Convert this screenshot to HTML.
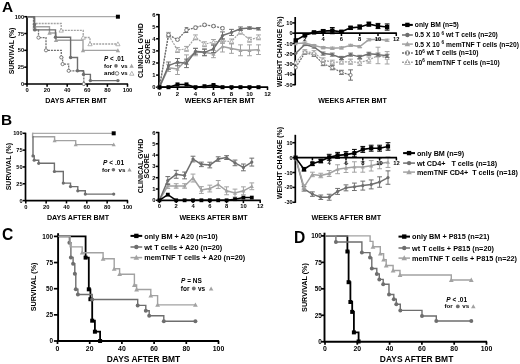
<!DOCTYPE html>
<html><head><meta charset="utf-8"><title>Figure</title>
<style>
html,body{margin:0;padding:0;background:#fff;width:520px;height:364px;overflow:hidden}
svg{display:block;filter:blur(0.3px)}
text{font-family:"Liberation Sans", sans-serif}
</style></head>
<body>
<svg width="520" height="364" viewBox="0 0 520 364">
<rect width="520" height="364" fill="#fff"/>
<text x="2" y="11.5" font-size="15.4" text-anchor="start" font-weight="bold" fill="#000">A</text>
<line x1="27" y1="16.1" x2="27" y2="84.6" stroke="#000" stroke-width="1.7" stroke-linecap="butt"/>
<line x1="24.2" y1="16.7" x2="27" y2="16.7" stroke="#000" stroke-width="1.53" stroke-linecap="butt"/>
<text x="24" y="18.72" font-size="5.6" text-anchor="end" font-weight="bold" fill="#000">100</text>
<line x1="24.2" y1="33.52" x2="27" y2="33.52" stroke="#000" stroke-width="1.53" stroke-linecap="butt"/>
<text x="24" y="35.54" font-size="5.6" text-anchor="end" font-weight="bold" fill="#000">75</text>
<line x1="24.2" y1="50.35" x2="27" y2="50.35" stroke="#000" stroke-width="1.53" stroke-linecap="butt"/>
<text x="24" y="52.37" font-size="5.6" text-anchor="end" font-weight="bold" fill="#000">50</text>
<line x1="24.2" y1="67.17" x2="27" y2="67.17" stroke="#000" stroke-width="1.53" stroke-linecap="butt"/>
<text x="24" y="69.19" font-size="5.6" text-anchor="end" font-weight="bold" fill="#000">25</text>
<line x1="24.2" y1="84" x2="27" y2="84" stroke="#000" stroke-width="1.53" stroke-linecap="butt"/>
<text x="24" y="86.02" font-size="5.6" text-anchor="end" font-weight="bold" fill="#000">0</text>
<line x1="26.4" y1="84" x2="128.1" y2="84" stroke="#000" stroke-width="1.7" stroke-linecap="butt"/>
<line x1="27" y1="84" x2="27" y2="86.8" stroke="#000" stroke-width="1.53" stroke-linecap="butt"/>
<text x="27" y="92" font-size="5.8" text-anchor="middle" font-weight="bold" fill="#000">0</text>
<line x1="47.1" y1="84" x2="47.1" y2="86.8" stroke="#000" stroke-width="1.53" stroke-linecap="butt"/>
<text x="47.1" y="92" font-size="5.8" text-anchor="middle" font-weight="bold" fill="#000">20</text>
<line x1="67.2" y1="84" x2="67.2" y2="86.8" stroke="#000" stroke-width="1.53" stroke-linecap="butt"/>
<text x="67.2" y="92" font-size="5.8" text-anchor="middle" font-weight="bold" fill="#000">40</text>
<line x1="87.3" y1="84" x2="87.3" y2="86.8" stroke="#000" stroke-width="1.53" stroke-linecap="butt"/>
<text x="87.3" y="92" font-size="5.8" text-anchor="middle" font-weight="bold" fill="#000">60</text>
<line x1="107.4" y1="84" x2="107.4" y2="86.8" stroke="#000" stroke-width="1.53" stroke-linecap="butt"/>
<text x="107.4" y="92" font-size="5.8" text-anchor="middle" font-weight="bold" fill="#000">80</text>
<line x1="127.5" y1="84" x2="127.5" y2="86.8" stroke="#000" stroke-width="1.53" stroke-linecap="butt"/>
<text x="127.5" y="92" font-size="5.8" text-anchor="middle" font-weight="bold" fill="#000">100</text>
<text x="13.8" y="51" font-size="6.9" text-anchor="middle" font-weight="bold" fill="#000" transform="rotate(-90 13.8 51)">SURVIVAL (%)</text>
<text x="76" y="102.8" font-size="7.1" text-anchor="middle" font-weight="bold" fill="#000">DAYS AFTER BMT</text>
<line x1="28.8" y1="16.7" x2="117.9" y2="16.7" stroke="#8a8a8a" stroke-width="0.9" stroke-linecap="butt"/>
<rect x="115.91" y="14.71" width="3.99" height="3.99" fill="#000"/>
<polyline points="27.5,16.7 33.7,16.7 33.7,23.5 61.2,23.5 61.2,30.4 83.2,30.4 83.2,37.5 90,37.5 90,44 117.9,44" fill="none" stroke="#a2a2a2" stroke-width="1.3" stroke-linejoin="miter" stroke-dasharray="2,1"/>
<polygon points="61.2,28.24 59.04,32.13 63.36,32.13" fill="#fff" stroke="#a2a2a2" stroke-width="0.8"/>
<polygon points="83.2,35.34 81.04,39.23 85.36,39.23" fill="#fff" stroke="#a2a2a2" stroke-width="0.8"/>
<polygon points="90,41.84 87.84,45.73 92.16,45.73" fill="#fff" stroke="#a2a2a2" stroke-width="0.8"/>
<polygon points="117.9,41.84 115.74,45.73 120.06,45.73" fill="#fff" stroke="#a2a2a2" stroke-width="0.8"/>
<polyline points="27.5,16.7 34.6,16.7 34.6,26.7 49.5,26.7 49.5,33 56,33 56,40.2 83,40.2 83,50.4 117.9,50.4" fill="none" stroke="#a2a2a2" stroke-width="1.4" stroke-linejoin="miter"/>
<polygon points="34.6,24.54 32.44,28.43 36.76,28.43" fill="#a2a2a2"/>
<polygon points="49.5,30.84 47.34,34.73 51.66,34.73" fill="#a2a2a2"/>
<polygon points="56,38.04 53.84,41.93 58.16,41.93" fill="#a2a2a2"/>
<polygon points="83,48.24 80.84,52.13 85.16,52.13" fill="#a2a2a2"/>
<polygon points="117.9,48.24 115.74,52.13 120.06,52.13" fill="#a2a2a2"/>
<polyline points="27.5,16.7 34.5,16.7 34.5,24.5 34.8,24.5 34.8,29.9 55.5,29.9 55.5,37.3 70.6,37.3 70.6,57.5 77.5,57.5 77.5,70.8 83.5,70.8 83.5,74.4 90.4,74.4 90.4,80.6 117.9,80.6" fill="none" stroke="#6e6e6e" stroke-width="1.4" stroke-linejoin="miter"/>
<circle cx="34.5" cy="24.5" r="1.71" fill="#6e6e6e"/>
<circle cx="34.8" cy="29.9" r="1.71" fill="#6e6e6e"/>
<circle cx="55.5" cy="37.3" r="1.71" fill="#6e6e6e"/>
<circle cx="70.6" cy="57.5" r="1.71" fill="#6e6e6e"/>
<circle cx="77.5" cy="70.8" r="1.71" fill="#6e6e6e"/>
<circle cx="83.5" cy="74.4" r="1.71" fill="#6e6e6e"/>
<circle cx="90.4" cy="80.6" r="1.71" fill="#6e6e6e"/>
<circle cx="117.9" cy="80.6" r="1.71" fill="#6e6e6e"/>
<polyline points="27.5,16.7 33.5,16.7 33.5,29.9 38.5,29.9 38.5,37.6 46,37.6 46,50.3 61.3,50.3 61.3,57.4 62.6,57.4 62.6,64.1 68.7,64.1 68.7,70.8 83.8,70.8 83.8,84 83.8,84" fill="none" stroke="#6e6e6e" stroke-width="1.3" stroke-linejoin="miter" stroke-dasharray="2,1"/>
<circle cx="38.5" cy="37.6" r="1.61" fill="#fff" stroke="#6e6e6e" stroke-width="0.9"/>
<circle cx="46" cy="50.3" r="1.61" fill="#fff" stroke="#6e6e6e" stroke-width="0.9"/>
<circle cx="61.3" cy="57.4" r="1.61" fill="#fff" stroke="#6e6e6e" stroke-width="0.9"/>
<circle cx="62.6" cy="64.1" r="1.61" fill="#fff" stroke="#6e6e6e" stroke-width="0.9"/>
<circle cx="68.7" cy="70.8" r="1.61" fill="#fff" stroke="#6e6e6e" stroke-width="0.9"/>
<circle cx="83.8" cy="84" r="1.61" fill="#fff" stroke="#6e6e6e" stroke-width="0.9"/>
<text x="104.1" y="60.7" font-size="6.3" text-anchor="start" font-weight="bold" fill="#000"><tspan font-style="italic">P</tspan> &lt; .01</text>
<text x="104.1" y="67.9" font-size="6" text-anchor="start" font-weight="bold" fill="#000">for</text>
<circle cx="116" cy="65.9" r="1.8" fill="#6e6e6e"/>
<text x="121" y="67.9" font-size="6" text-anchor="start" font-weight="bold" fill="#000">vs</text>
<polygon points="131.6,63.84 129.44,67.73 133.76,67.73" fill="#a2a2a2"/>
<text x="104.1" y="75.4" font-size="6" text-anchor="start" font-weight="bold" fill="#000">and</text>
<circle cx="117" cy="73.4" r="1.8" fill="#fff" stroke="#6e6e6e" stroke-width="0.9"/>
<text x="121" y="75.4" font-size="6" text-anchor="start" font-weight="bold" fill="#000">vs</text>
<polygon points="131.8,71.34 129.64,75.23 133.96,75.23" fill="#fff" stroke="#a2a2a2" stroke-width="0.8"/>
<line x1="158.9" y1="14" x2="158.9" y2="87.8" stroke="#000" stroke-width="1.7" stroke-linecap="butt"/>
<line x1="156.1" y1="87.2" x2="158.9" y2="87.2" stroke="#000" stroke-width="1.53" stroke-linecap="butt"/>
<text x="155.6" y="89.29" font-size="5.8" text-anchor="end" font-weight="bold" fill="#000">0</text>
<line x1="156.1" y1="75.1" x2="158.9" y2="75.1" stroke="#000" stroke-width="1.53" stroke-linecap="butt"/>
<text x="155.6" y="77.19" font-size="5.8" text-anchor="end" font-weight="bold" fill="#000">1</text>
<line x1="156.1" y1="63" x2="158.9" y2="63" stroke="#000" stroke-width="1.53" stroke-linecap="butt"/>
<text x="155.6" y="65.09" font-size="5.8" text-anchor="end" font-weight="bold" fill="#000">2</text>
<line x1="156.1" y1="50.9" x2="158.9" y2="50.9" stroke="#000" stroke-width="1.53" stroke-linecap="butt"/>
<text x="155.6" y="52.99" font-size="5.8" text-anchor="end" font-weight="bold" fill="#000">3</text>
<line x1="156.1" y1="38.8" x2="158.9" y2="38.8" stroke="#000" stroke-width="1.53" stroke-linecap="butt"/>
<text x="155.6" y="40.89" font-size="5.8" text-anchor="end" font-weight="bold" fill="#000">4</text>
<line x1="156.1" y1="26.7" x2="158.9" y2="26.7" stroke="#000" stroke-width="1.53" stroke-linecap="butt"/>
<text x="155.6" y="28.79" font-size="5.8" text-anchor="end" font-weight="bold" fill="#000">5</text>
<line x1="156.1" y1="14.6" x2="158.9" y2="14.6" stroke="#000" stroke-width="1.53" stroke-linecap="butt"/>
<text x="155.6" y="16.69" font-size="5.8" text-anchor="end" font-weight="bold" fill="#000">6</text>
<line x1="158.3" y1="87.2" x2="268.1" y2="87.2" stroke="#000" stroke-width="1.7" stroke-linecap="butt"/>
<line x1="159.5" y1="87.2" x2="159.5" y2="90" stroke="#000" stroke-width="1.53" stroke-linecap="butt"/>
<text x="159.5" y="95.6" font-size="6" text-anchor="middle" font-weight="bold" fill="#000">0</text>
<line x1="177.5" y1="87.2" x2="177.5" y2="90" stroke="#000" stroke-width="1.53" stroke-linecap="butt"/>
<text x="177.5" y="95.6" font-size="6" text-anchor="middle" font-weight="bold" fill="#000">2</text>
<line x1="195.5" y1="87.2" x2="195.5" y2="90" stroke="#000" stroke-width="1.53" stroke-linecap="butt"/>
<text x="195.5" y="95.6" font-size="6" text-anchor="middle" font-weight="bold" fill="#000">4</text>
<line x1="213.5" y1="87.2" x2="213.5" y2="90" stroke="#000" stroke-width="1.53" stroke-linecap="butt"/>
<text x="213.5" y="95.6" font-size="6" text-anchor="middle" font-weight="bold" fill="#000">6</text>
<line x1="231.5" y1="87.2" x2="231.5" y2="90" stroke="#000" stroke-width="1.53" stroke-linecap="butt"/>
<text x="231.5" y="95.6" font-size="6" text-anchor="middle" font-weight="bold" fill="#000">8</text>
<line x1="249.5" y1="87.2" x2="249.5" y2="90" stroke="#000" stroke-width="1.53" stroke-linecap="butt"/>
<text x="249.5" y="95.6" font-size="6" text-anchor="middle" font-weight="bold" fill="#000">10</text>
<line x1="267.5" y1="87.2" x2="267.5" y2="90" stroke="#000" stroke-width="1.53" stroke-linecap="butt"/>
<text x="267.5" y="95.6" font-size="6" text-anchor="middle" font-weight="bold" fill="#000">12</text>
<text x="143.4" y="50.6" font-size="7" text-anchor="middle" font-weight="bold" fill="#000" transform="rotate(-90 143.4 50.6)">CLINICAL GVHD</text>
<text x="149.8" y="51.4" font-size="7" text-anchor="middle" font-weight="bold" fill="#000" transform="rotate(-90 149.8 51.4)">SCORE</text>
<text x="219.8" y="103.3" font-size="7.25" text-anchor="middle" font-weight="bold" fill="#000">WEEKS AFTER BMT</text>
<polyline points="159.5,87.2 168.5,34.81 177.5,50.05 186.5,48.84 195.5,37.35 204.5,44.25 213.5,41.95 222.5,40.98 231.5,41.46 240.5,31.78 249.5,39.77 258.5,37.35" fill="none" stroke="#a2a2a2" stroke-width="1.2" stroke-linejoin="round" stroke-dasharray="2,1"/>
<line x1="168.5" y1="32.39" x2="168.5" y2="37.23" stroke="#a2a2a2" stroke-width="1" stroke-linecap="butt"/>
<line x1="166.1" y1="32.39" x2="170.9" y2="32.39" stroke="#a2a2a2" stroke-width="1" stroke-linecap="butt"/>
<line x1="166.1" y1="37.23" x2="170.9" y2="37.23" stroke="#a2a2a2" stroke-width="1" stroke-linecap="butt"/>
<line x1="177.5" y1="47.63" x2="177.5" y2="52.47" stroke="#a2a2a2" stroke-width="1" stroke-linecap="butt"/>
<line x1="175.1" y1="47.63" x2="179.9" y2="47.63" stroke="#a2a2a2" stroke-width="1" stroke-linecap="butt"/>
<line x1="175.1" y1="52.47" x2="179.9" y2="52.47" stroke="#a2a2a2" stroke-width="1" stroke-linecap="butt"/>
<line x1="186.5" y1="46.42" x2="186.5" y2="51.26" stroke="#a2a2a2" stroke-width="1" stroke-linecap="butt"/>
<line x1="184.1" y1="46.42" x2="188.9" y2="46.42" stroke="#a2a2a2" stroke-width="1" stroke-linecap="butt"/>
<line x1="184.1" y1="51.26" x2="188.9" y2="51.26" stroke="#a2a2a2" stroke-width="1" stroke-linecap="butt"/>
<line x1="195.5" y1="34.93" x2="195.5" y2="39.77" stroke="#a2a2a2" stroke-width="1" stroke-linecap="butt"/>
<line x1="193.1" y1="34.93" x2="197.9" y2="34.93" stroke="#a2a2a2" stroke-width="1" stroke-linecap="butt"/>
<line x1="193.1" y1="39.77" x2="197.9" y2="39.77" stroke="#a2a2a2" stroke-width="1" stroke-linecap="butt"/>
<line x1="204.5" y1="41.83" x2="204.5" y2="46.67" stroke="#a2a2a2" stroke-width="1" stroke-linecap="butt"/>
<line x1="202.1" y1="41.83" x2="206.9" y2="41.83" stroke="#a2a2a2" stroke-width="1" stroke-linecap="butt"/>
<line x1="202.1" y1="46.67" x2="206.9" y2="46.67" stroke="#a2a2a2" stroke-width="1" stroke-linecap="butt"/>
<line x1="213.5" y1="39.53" x2="213.5" y2="44.37" stroke="#a2a2a2" stroke-width="1" stroke-linecap="butt"/>
<line x1="211.1" y1="39.53" x2="215.9" y2="39.53" stroke="#a2a2a2" stroke-width="1" stroke-linecap="butt"/>
<line x1="211.1" y1="44.37" x2="215.9" y2="44.37" stroke="#a2a2a2" stroke-width="1" stroke-linecap="butt"/>
<line x1="222.5" y1="38.56" x2="222.5" y2="43.4" stroke="#a2a2a2" stroke-width="1" stroke-linecap="butt"/>
<line x1="220.1" y1="38.56" x2="224.9" y2="38.56" stroke="#a2a2a2" stroke-width="1" stroke-linecap="butt"/>
<line x1="220.1" y1="43.4" x2="224.9" y2="43.4" stroke="#a2a2a2" stroke-width="1" stroke-linecap="butt"/>
<line x1="231.5" y1="39.04" x2="231.5" y2="43.88" stroke="#a2a2a2" stroke-width="1" stroke-linecap="butt"/>
<line x1="229.1" y1="39.04" x2="233.9" y2="39.04" stroke="#a2a2a2" stroke-width="1" stroke-linecap="butt"/>
<line x1="229.1" y1="43.88" x2="233.9" y2="43.88" stroke="#a2a2a2" stroke-width="1" stroke-linecap="butt"/>
<line x1="240.5" y1="29.36" x2="240.5" y2="34.2" stroke="#a2a2a2" stroke-width="1" stroke-linecap="butt"/>
<line x1="238.1" y1="29.36" x2="242.9" y2="29.36" stroke="#a2a2a2" stroke-width="1" stroke-linecap="butt"/>
<line x1="238.1" y1="34.2" x2="242.9" y2="34.2" stroke="#a2a2a2" stroke-width="1" stroke-linecap="butt"/>
<line x1="249.5" y1="37.35" x2="249.5" y2="42.19" stroke="#a2a2a2" stroke-width="1" stroke-linecap="butt"/>
<line x1="247.1" y1="37.35" x2="251.9" y2="37.35" stroke="#a2a2a2" stroke-width="1" stroke-linecap="butt"/>
<line x1="247.1" y1="42.19" x2="251.9" y2="42.19" stroke="#a2a2a2" stroke-width="1" stroke-linecap="butt"/>
<line x1="258.5" y1="34.93" x2="258.5" y2="39.77" stroke="#a2a2a2" stroke-width="1" stroke-linecap="butt"/>
<line x1="256.1" y1="34.93" x2="260.9" y2="34.93" stroke="#a2a2a2" stroke-width="1" stroke-linecap="butt"/>
<line x1="256.1" y1="39.77" x2="260.9" y2="39.77" stroke="#a2a2a2" stroke-width="1" stroke-linecap="butt"/>
<polygon points="159.5,85.16 157.46,88.83 161.54,88.83" fill="#fff" stroke="#a2a2a2" stroke-width="0.8"/>
<polygon points="168.5,32.77 166.46,36.44 170.54,36.44" fill="#fff" stroke="#a2a2a2" stroke-width="0.8"/>
<polygon points="177.5,48.01 175.46,51.69 179.54,51.69" fill="#fff" stroke="#a2a2a2" stroke-width="0.8"/>
<polygon points="186.5,46.8 184.46,50.48 188.54,50.48" fill="#fff" stroke="#a2a2a2" stroke-width="0.8"/>
<polygon points="195.5,35.31 193.46,38.98 197.54,38.98" fill="#fff" stroke="#a2a2a2" stroke-width="0.8"/>
<polygon points="204.5,42.21 202.46,45.88 206.54,45.88" fill="#fff" stroke="#a2a2a2" stroke-width="0.8"/>
<polygon points="213.5,39.91 211.46,43.58 215.54,43.58" fill="#fff" stroke="#a2a2a2" stroke-width="0.8"/>
<polygon points="222.5,38.94 220.46,42.61 224.54,42.61" fill="#fff" stroke="#a2a2a2" stroke-width="0.8"/>
<polygon points="231.5,39.42 229.46,43.09 233.54,43.09" fill="#fff" stroke="#a2a2a2" stroke-width="0.8"/>
<polygon points="240.5,29.74 238.46,33.41 242.54,33.41" fill="#fff" stroke="#a2a2a2" stroke-width="0.8"/>
<polygon points="249.5,37.73 247.46,41.4 251.54,41.4" fill="#fff" stroke="#a2a2a2" stroke-width="0.8"/>
<polygon points="258.5,35.31 256.46,38.98 260.54,38.98" fill="#fff" stroke="#a2a2a2" stroke-width="0.8"/>
<polyline points="159.5,87.2 168.5,67.84 177.5,69.05 186.5,59.73 195.5,52.11 204.5,52.35 213.5,54.05 222.5,46.54 231.5,48.48 240.5,50.3 249.5,50.3 258.5,49.69" fill="none" stroke="#a2a2a2" stroke-width="1.5" stroke-linejoin="round"/>
<line x1="168.5" y1="64.21" x2="168.5" y2="71.47" stroke="#a2a2a2" stroke-width="1" stroke-linecap="butt"/>
<line x1="166.1" y1="64.21" x2="170.9" y2="64.21" stroke="#a2a2a2" stroke-width="1" stroke-linecap="butt"/>
<line x1="166.1" y1="71.47" x2="170.9" y2="71.47" stroke="#a2a2a2" stroke-width="1" stroke-linecap="butt"/>
<line x1="177.5" y1="63.61" x2="177.5" y2="74.5" stroke="#a2a2a2" stroke-width="1" stroke-linecap="butt"/>
<line x1="175.1" y1="63.61" x2="179.9" y2="63.61" stroke="#a2a2a2" stroke-width="1" stroke-linecap="butt"/>
<line x1="175.1" y1="74.5" x2="179.9" y2="74.5" stroke="#a2a2a2" stroke-width="1" stroke-linecap="butt"/>
<line x1="186.5" y1="54.89" x2="186.5" y2="64.57" stroke="#a2a2a2" stroke-width="1" stroke-linecap="butt"/>
<line x1="184.1" y1="54.89" x2="188.9" y2="54.89" stroke="#a2a2a2" stroke-width="1" stroke-linecap="butt"/>
<line x1="184.1" y1="64.57" x2="188.9" y2="64.57" stroke="#a2a2a2" stroke-width="1" stroke-linecap="butt"/>
<line x1="195.5" y1="48.48" x2="195.5" y2="55.74" stroke="#a2a2a2" stroke-width="1" stroke-linecap="butt"/>
<line x1="193.1" y1="48.48" x2="197.9" y2="48.48" stroke="#a2a2a2" stroke-width="1" stroke-linecap="butt"/>
<line x1="193.1" y1="55.74" x2="197.9" y2="55.74" stroke="#a2a2a2" stroke-width="1" stroke-linecap="butt"/>
<line x1="204.5" y1="48.72" x2="204.5" y2="55.98" stroke="#a2a2a2" stroke-width="1" stroke-linecap="butt"/>
<line x1="202.1" y1="48.72" x2="206.9" y2="48.72" stroke="#a2a2a2" stroke-width="1" stroke-linecap="butt"/>
<line x1="202.1" y1="55.98" x2="206.9" y2="55.98" stroke="#a2a2a2" stroke-width="1" stroke-linecap="butt"/>
<line x1="213.5" y1="50.42" x2="213.5" y2="57.68" stroke="#a2a2a2" stroke-width="1" stroke-linecap="butt"/>
<line x1="211.1" y1="50.42" x2="215.9" y2="50.42" stroke="#a2a2a2" stroke-width="1" stroke-linecap="butt"/>
<line x1="211.1" y1="57.68" x2="215.9" y2="57.68" stroke="#a2a2a2" stroke-width="1" stroke-linecap="butt"/>
<line x1="222.5" y1="41.1" x2="222.5" y2="51.99" stroke="#a2a2a2" stroke-width="1" stroke-linecap="butt"/>
<line x1="220.1" y1="41.1" x2="224.9" y2="41.1" stroke="#a2a2a2" stroke-width="1" stroke-linecap="butt"/>
<line x1="220.1" y1="51.99" x2="224.9" y2="51.99" stroke="#a2a2a2" stroke-width="1" stroke-linecap="butt"/>
<line x1="231.5" y1="43.64" x2="231.5" y2="53.32" stroke="#a2a2a2" stroke-width="1" stroke-linecap="butt"/>
<line x1="229.1" y1="43.64" x2="233.9" y2="43.64" stroke="#a2a2a2" stroke-width="1" stroke-linecap="butt"/>
<line x1="229.1" y1="53.32" x2="233.9" y2="53.32" stroke="#a2a2a2" stroke-width="1" stroke-linecap="butt"/>
<line x1="240.5" y1="44.85" x2="240.5" y2="55.74" stroke="#a2a2a2" stroke-width="1" stroke-linecap="butt"/>
<line x1="238.1" y1="44.85" x2="242.9" y2="44.85" stroke="#a2a2a2" stroke-width="1" stroke-linecap="butt"/>
<line x1="238.1" y1="55.74" x2="242.9" y2="55.74" stroke="#a2a2a2" stroke-width="1" stroke-linecap="butt"/>
<line x1="249.5" y1="44.85" x2="249.5" y2="55.74" stroke="#a2a2a2" stroke-width="1" stroke-linecap="butt"/>
<line x1="247.1" y1="44.85" x2="251.9" y2="44.85" stroke="#a2a2a2" stroke-width="1" stroke-linecap="butt"/>
<line x1="247.1" y1="55.74" x2="251.9" y2="55.74" stroke="#a2a2a2" stroke-width="1" stroke-linecap="butt"/>
<line x1="258.5" y1="44.85" x2="258.5" y2="54.53" stroke="#a2a2a2" stroke-width="1" stroke-linecap="butt"/>
<line x1="256.1" y1="44.85" x2="260.9" y2="44.85" stroke="#a2a2a2" stroke-width="1" stroke-linecap="butt"/>
<line x1="256.1" y1="54.53" x2="260.9" y2="54.53" stroke="#a2a2a2" stroke-width="1" stroke-linecap="butt"/>
<polygon points="159.5,85.16 157.46,88.83 161.54,88.83" fill="#a2a2a2"/>
<polygon points="168.5,65.8 166.46,69.47 170.54,69.47" fill="#a2a2a2"/>
<polygon points="177.5,67.01 175.46,70.68 179.54,70.68" fill="#a2a2a2"/>
<polygon points="186.5,57.69 184.46,61.37 188.54,61.37" fill="#a2a2a2"/>
<polygon points="195.5,50.07 193.46,53.74 197.54,53.74" fill="#a2a2a2"/>
<polygon points="204.5,50.31 202.46,53.98 206.54,53.98" fill="#a2a2a2"/>
<polygon points="213.5,52.01 211.46,55.68 215.54,55.68" fill="#a2a2a2"/>
<polygon points="222.5,44.5 220.46,48.18 224.54,48.18" fill="#a2a2a2"/>
<polygon points="231.5,46.44 229.46,50.11 233.54,50.11" fill="#a2a2a2"/>
<polygon points="240.5,48.26 238.46,51.93 242.54,51.93" fill="#a2a2a2"/>
<polygon points="249.5,48.26 247.46,51.93 251.54,51.93" fill="#a2a2a2"/>
<polygon points="258.5,47.65 256.46,51.32 260.54,51.32" fill="#a2a2a2"/>
<polyline points="159.5,87.2 168.5,34.81 177.5,39.65 186.5,30.09 195.5,27.67 204.5,24.88 213.5,26.1 222.5,28.27" fill="none" stroke="#6e6e6e" stroke-width="1.3" stroke-linejoin="round" stroke-dasharray="2,1"/>
<line x1="168.5" y1="33.6" x2="168.5" y2="36.02" stroke="#6e6e6e" stroke-width="1" stroke-linecap="butt"/>
<line x1="166.7" y1="33.6" x2="170.3" y2="33.6" stroke="#6e6e6e" stroke-width="1" stroke-linecap="butt"/>
<line x1="166.7" y1="36.02" x2="170.3" y2="36.02" stroke="#6e6e6e" stroke-width="1" stroke-linecap="butt"/>
<line x1="177.5" y1="38.68" x2="177.5" y2="40.62" stroke="#6e6e6e" stroke-width="1" stroke-linecap="butt"/>
<line x1="175.7" y1="38.68" x2="179.3" y2="38.68" stroke="#6e6e6e" stroke-width="1" stroke-linecap="butt"/>
<line x1="175.7" y1="40.62" x2="179.3" y2="40.62" stroke="#6e6e6e" stroke-width="1" stroke-linecap="butt"/>
<line x1="186.5" y1="27.67" x2="186.5" y2="32.51" stroke="#6e6e6e" stroke-width="1" stroke-linecap="butt"/>
<line x1="184.7" y1="27.67" x2="188.3" y2="27.67" stroke="#6e6e6e" stroke-width="1" stroke-linecap="butt"/>
<line x1="184.7" y1="32.51" x2="188.3" y2="32.51" stroke="#6e6e6e" stroke-width="1" stroke-linecap="butt"/>
<line x1="195.5" y1="26.22" x2="195.5" y2="29.12" stroke="#6e6e6e" stroke-width="1" stroke-linecap="butt"/>
<line x1="193.7" y1="26.22" x2="197.3" y2="26.22" stroke="#6e6e6e" stroke-width="1" stroke-linecap="butt"/>
<line x1="193.7" y1="29.12" x2="197.3" y2="29.12" stroke="#6e6e6e" stroke-width="1" stroke-linecap="butt"/>
<line x1="204.5" y1="23.43" x2="204.5" y2="26.34" stroke="#6e6e6e" stroke-width="1" stroke-linecap="butt"/>
<line x1="202.7" y1="23.43" x2="206.3" y2="23.43" stroke="#6e6e6e" stroke-width="1" stroke-linecap="butt"/>
<line x1="202.7" y1="26.34" x2="206.3" y2="26.34" stroke="#6e6e6e" stroke-width="1" stroke-linecap="butt"/>
<line x1="213.5" y1="24.89" x2="213.5" y2="27.31" stroke="#6e6e6e" stroke-width="1" stroke-linecap="butt"/>
<line x1="211.7" y1="24.89" x2="215.3" y2="24.89" stroke="#6e6e6e" stroke-width="1" stroke-linecap="butt"/>
<line x1="211.7" y1="27.31" x2="215.3" y2="27.31" stroke="#6e6e6e" stroke-width="1" stroke-linecap="butt"/>
<line x1="222.5" y1="27.06" x2="222.5" y2="29.48" stroke="#6e6e6e" stroke-width="1" stroke-linecap="butt"/>
<line x1="220.7" y1="27.06" x2="224.3" y2="27.06" stroke="#6e6e6e" stroke-width="1" stroke-linecap="butt"/>
<line x1="220.7" y1="29.48" x2="224.3" y2="29.48" stroke="#6e6e6e" stroke-width="1" stroke-linecap="butt"/>
<circle cx="159.5" cy="87.2" r="1.8" fill="#fff" stroke="#6e6e6e" stroke-width="0.9"/>
<circle cx="168.5" cy="34.81" r="1.8" fill="#fff" stroke="#6e6e6e" stroke-width="0.9"/>
<circle cx="177.5" cy="39.65" r="1.8" fill="#fff" stroke="#6e6e6e" stroke-width="0.9"/>
<circle cx="186.5" cy="30.09" r="1.8" fill="#fff" stroke="#6e6e6e" stroke-width="0.9"/>
<circle cx="195.5" cy="27.67" r="1.8" fill="#fff" stroke="#6e6e6e" stroke-width="0.9"/>
<circle cx="204.5" cy="24.88" r="1.8" fill="#fff" stroke="#6e6e6e" stroke-width="0.9"/>
<circle cx="213.5" cy="26.1" r="1.8" fill="#fff" stroke="#6e6e6e" stroke-width="0.9"/>
<circle cx="222.5" cy="28.27" r="1.8" fill="#fff" stroke="#6e6e6e" stroke-width="0.9"/>
<polyline points="159.5,87.2 168.5,65.66 177.5,62.15 186.5,63.36 195.5,51.26 204.5,52.35 213.5,48.84 222.5,35.53 231.5,32.39 240.5,28.76 249.5,28.03 258.5,28.76" fill="none" stroke="#6e6e6e" stroke-width="1.5" stroke-linejoin="round"/>
<line x1="168.5" y1="62.03" x2="168.5" y2="69.29" stroke="#6e6e6e" stroke-width="1" stroke-linecap="butt"/>
<line x1="166.1" y1="62.03" x2="170.9" y2="62.03" stroke="#6e6e6e" stroke-width="1" stroke-linecap="butt"/>
<line x1="166.1" y1="69.29" x2="170.9" y2="69.29" stroke="#6e6e6e" stroke-width="1" stroke-linecap="butt"/>
<line x1="177.5" y1="58.52" x2="177.5" y2="65.78" stroke="#6e6e6e" stroke-width="1" stroke-linecap="butt"/>
<line x1="175.1" y1="58.52" x2="179.9" y2="58.52" stroke="#6e6e6e" stroke-width="1" stroke-linecap="butt"/>
<line x1="175.1" y1="65.78" x2="179.9" y2="65.78" stroke="#6e6e6e" stroke-width="1" stroke-linecap="butt"/>
<line x1="186.5" y1="59.13" x2="186.5" y2="67.6" stroke="#6e6e6e" stroke-width="1" stroke-linecap="butt"/>
<line x1="184.1" y1="59.13" x2="188.9" y2="59.13" stroke="#6e6e6e" stroke-width="1" stroke-linecap="butt"/>
<line x1="184.1" y1="67.6" x2="188.9" y2="67.6" stroke="#6e6e6e" stroke-width="1" stroke-linecap="butt"/>
<line x1="195.5" y1="48.24" x2="195.5" y2="54.29" stroke="#6e6e6e" stroke-width="1" stroke-linecap="butt"/>
<line x1="193.1" y1="48.24" x2="197.9" y2="48.24" stroke="#6e6e6e" stroke-width="1" stroke-linecap="butt"/>
<line x1="193.1" y1="54.29" x2="197.9" y2="54.29" stroke="#6e6e6e" stroke-width="1" stroke-linecap="butt"/>
<line x1="204.5" y1="49.33" x2="204.5" y2="55.38" stroke="#6e6e6e" stroke-width="1" stroke-linecap="butt"/>
<line x1="202.1" y1="49.33" x2="206.9" y2="49.33" stroke="#6e6e6e" stroke-width="1" stroke-linecap="butt"/>
<line x1="202.1" y1="55.38" x2="206.9" y2="55.38" stroke="#6e6e6e" stroke-width="1" stroke-linecap="butt"/>
<line x1="213.5" y1="45.21" x2="213.5" y2="52.47" stroke="#6e6e6e" stroke-width="1" stroke-linecap="butt"/>
<line x1="211.1" y1="45.21" x2="215.9" y2="45.21" stroke="#6e6e6e" stroke-width="1" stroke-linecap="butt"/>
<line x1="211.1" y1="52.47" x2="215.9" y2="52.47" stroke="#6e6e6e" stroke-width="1" stroke-linecap="butt"/>
<line x1="222.5" y1="31.9" x2="222.5" y2="39.16" stroke="#6e6e6e" stroke-width="1" stroke-linecap="butt"/>
<line x1="220.1" y1="31.9" x2="224.9" y2="31.9" stroke="#6e6e6e" stroke-width="1" stroke-linecap="butt"/>
<line x1="220.1" y1="39.16" x2="224.9" y2="39.16" stroke="#6e6e6e" stroke-width="1" stroke-linecap="butt"/>
<line x1="231.5" y1="29.36" x2="231.5" y2="35.41" stroke="#6e6e6e" stroke-width="1" stroke-linecap="butt"/>
<line x1="229.1" y1="29.36" x2="233.9" y2="29.36" stroke="#6e6e6e" stroke-width="1" stroke-linecap="butt"/>
<line x1="229.1" y1="35.41" x2="233.9" y2="35.41" stroke="#6e6e6e" stroke-width="1" stroke-linecap="butt"/>
<line x1="240.5" y1="26.94" x2="240.5" y2="30.57" stroke="#6e6e6e" stroke-width="1" stroke-linecap="butt"/>
<line x1="238.1" y1="26.94" x2="242.9" y2="26.94" stroke="#6e6e6e" stroke-width="1" stroke-linecap="butt"/>
<line x1="238.1" y1="30.57" x2="242.9" y2="30.57" stroke="#6e6e6e" stroke-width="1" stroke-linecap="butt"/>
<line x1="249.5" y1="26.82" x2="249.5" y2="29.24" stroke="#6e6e6e" stroke-width="1" stroke-linecap="butt"/>
<line x1="247.1" y1="26.82" x2="251.9" y2="26.82" stroke="#6e6e6e" stroke-width="1" stroke-linecap="butt"/>
<line x1="247.1" y1="29.24" x2="251.9" y2="29.24" stroke="#6e6e6e" stroke-width="1" stroke-linecap="butt"/>
<line x1="258.5" y1="27.55" x2="258.5" y2="29.97" stroke="#6e6e6e" stroke-width="1" stroke-linecap="butt"/>
<line x1="256.1" y1="27.55" x2="260.9" y2="27.55" stroke="#6e6e6e" stroke-width="1" stroke-linecap="butt"/>
<line x1="256.1" y1="29.97" x2="260.9" y2="29.97" stroke="#6e6e6e" stroke-width="1" stroke-linecap="butt"/>
<circle cx="159.5" cy="87.2" r="1.61" fill="#6e6e6e"/>
<circle cx="168.5" cy="65.66" r="1.61" fill="#6e6e6e"/>
<circle cx="177.5" cy="62.15" r="1.61" fill="#6e6e6e"/>
<circle cx="186.5" cy="63.36" r="1.61" fill="#6e6e6e"/>
<circle cx="195.5" cy="51.26" r="1.61" fill="#6e6e6e"/>
<circle cx="204.5" cy="52.35" r="1.61" fill="#6e6e6e"/>
<circle cx="213.5" cy="48.84" r="1.61" fill="#6e6e6e"/>
<circle cx="222.5" cy="35.53" r="1.61" fill="#6e6e6e"/>
<circle cx="231.5" cy="32.39" r="1.61" fill="#6e6e6e"/>
<circle cx="240.5" cy="28.76" r="1.61" fill="#6e6e6e"/>
<circle cx="249.5" cy="28.03" r="1.61" fill="#6e6e6e"/>
<circle cx="258.5" cy="28.76" r="1.61" fill="#6e6e6e"/>
<polyline points="159.5,87.2 168.5,87.2 177.5,84.42 186.5,84.42 195.5,87.2 204.5,86.23 213.5,85.02 222.5,87.2 231.5,87.2 240.5,87.2 249.5,87.2 258.5,87.2" fill="none" stroke="#000" stroke-width="1.5" stroke-linejoin="round"/>
<rect x="157.5" y="85.2" width="3.99" height="3.99" fill="#000"/>
<rect x="166.5" y="85.2" width="3.99" height="3.99" fill="#000"/>
<rect x="175.5" y="82.42" width="3.99" height="3.99" fill="#000"/>
<rect x="184.5" y="82.42" width="3.99" height="3.99" fill="#000"/>
<rect x="193.5" y="85.2" width="3.99" height="3.99" fill="#000"/>
<rect x="202.5" y="84.24" width="3.99" height="3.99" fill="#000"/>
<rect x="211.5" y="83.03" width="3.99" height="3.99" fill="#000"/>
<rect x="220.5" y="85.2" width="3.99" height="3.99" fill="#000"/>
<rect x="229.5" y="85.2" width="3.99" height="3.99" fill="#000"/>
<rect x="238.5" y="85.2" width="3.99" height="3.99" fill="#000"/>
<rect x="247.5" y="85.2" width="3.99" height="3.99" fill="#000"/>
<rect x="256.5" y="85.2" width="3.99" height="3.99" fill="#000"/>
<line x1="295.2" y1="17" x2="295.2" y2="85.3" stroke="#000" stroke-width="1.7" stroke-linecap="butt"/>
<line x1="292.4" y1="22.9" x2="295.2" y2="22.9" stroke="#000" stroke-width="1.53" stroke-linecap="butt"/>
<text x="292.6" y="24.9" font-size="5.6" text-anchor="end" font-weight="bold" fill="#000">10</text>
<line x1="292.4" y1="33.2" x2="295.2" y2="33.2" stroke="#000" stroke-width="1.53" stroke-linecap="butt"/>
<text x="292.6" y="35.2" font-size="5.6" text-anchor="end" font-weight="bold" fill="#000">0</text>
<line x1="292.4" y1="43.5" x2="295.2" y2="43.5" stroke="#000" stroke-width="1.53" stroke-linecap="butt"/>
<text x="292.6" y="45.5" font-size="5.6" text-anchor="end" font-weight="bold" fill="#000">-10</text>
<line x1="292.4" y1="53.8" x2="295.2" y2="53.8" stroke="#000" stroke-width="1.53" stroke-linecap="butt"/>
<text x="292.6" y="55.8" font-size="5.6" text-anchor="end" font-weight="bold" fill="#000">-20</text>
<line x1="292.4" y1="64.1" x2="295.2" y2="64.1" stroke="#000" stroke-width="1.53" stroke-linecap="butt"/>
<text x="292.6" y="66.1" font-size="5.6" text-anchor="end" font-weight="bold" fill="#000">-30</text>
<line x1="292.4" y1="74.4" x2="295.2" y2="74.4" stroke="#000" stroke-width="1.53" stroke-linecap="butt"/>
<text x="292.6" y="76.4" font-size="5.6" text-anchor="end" font-weight="bold" fill="#000">-40</text>
<line x1="292.4" y1="84.7" x2="295.2" y2="84.7" stroke="#000" stroke-width="1.53" stroke-linecap="butt"/>
<text x="292.6" y="86.7" font-size="5.6" text-anchor="end" font-weight="bold" fill="#000">-50</text>
<text x="282.4" y="51.7" font-size="6.75" text-anchor="middle" font-weight="bold" fill="#000" transform="rotate(-90 282.4 51.7)">WEIGHT CHANGE (%)</text>
<text x="352.5" y="102.8" font-size="7.1" text-anchor="middle" font-weight="bold" fill="#000">WEEKS AFTER BMT</text>
<polyline points="295.74,67.5 304.88,52.77 314.02,54.83 323.16,63.59 332.3,67.71 341.44,72.34 350.58,75.02" fill="none" stroke="#6e6e6e" stroke-width="1.2" stroke-linejoin="round" stroke-dasharray="2,1"/>
<line x1="304.88" y1="51.23" x2="304.88" y2="54.32" stroke="#6e6e6e" stroke-width="1" stroke-linecap="butt"/>
<line x1="302.48" y1="51.23" x2="307.28" y2="51.23" stroke="#6e6e6e" stroke-width="1" stroke-linecap="butt"/>
<line x1="302.48" y1="54.32" x2="307.28" y2="54.32" stroke="#6e6e6e" stroke-width="1" stroke-linecap="butt"/>
<line x1="314.02" y1="53.28" x2="314.02" y2="56.38" stroke="#6e6e6e" stroke-width="1" stroke-linecap="butt"/>
<line x1="311.62" y1="53.28" x2="316.42" y2="53.28" stroke="#6e6e6e" stroke-width="1" stroke-linecap="butt"/>
<line x1="311.62" y1="56.38" x2="316.42" y2="56.38" stroke="#6e6e6e" stroke-width="1" stroke-linecap="butt"/>
<line x1="323.16" y1="61.53" x2="323.16" y2="65.65" stroke="#6e6e6e" stroke-width="1" stroke-linecap="butt"/>
<line x1="320.76" y1="61.53" x2="325.56" y2="61.53" stroke="#6e6e6e" stroke-width="1" stroke-linecap="butt"/>
<line x1="320.76" y1="65.65" x2="325.56" y2="65.65" stroke="#6e6e6e" stroke-width="1" stroke-linecap="butt"/>
<line x1="332.3" y1="65.65" x2="332.3" y2="69.77" stroke="#6e6e6e" stroke-width="1" stroke-linecap="butt"/>
<line x1="329.9" y1="65.65" x2="334.7" y2="65.65" stroke="#6e6e6e" stroke-width="1" stroke-linecap="butt"/>
<line x1="329.9" y1="69.77" x2="334.7" y2="69.77" stroke="#6e6e6e" stroke-width="1" stroke-linecap="butt"/>
<line x1="341.44" y1="70.28" x2="341.44" y2="74.4" stroke="#6e6e6e" stroke-width="1" stroke-linecap="butt"/>
<line x1="339.04" y1="70.28" x2="343.84" y2="70.28" stroke="#6e6e6e" stroke-width="1" stroke-linecap="butt"/>
<line x1="339.04" y1="74.4" x2="343.84" y2="74.4" stroke="#6e6e6e" stroke-width="1" stroke-linecap="butt"/>
<line x1="350.58" y1="69.87" x2="350.58" y2="80.17" stroke="#6e6e6e" stroke-width="1" stroke-linecap="butt"/>
<line x1="348.18" y1="69.87" x2="352.98" y2="69.87" stroke="#6e6e6e" stroke-width="1" stroke-linecap="butt"/>
<line x1="348.18" y1="80.17" x2="352.98" y2="80.17" stroke="#6e6e6e" stroke-width="1" stroke-linecap="butt"/>
<circle cx="295.74" cy="67.5" r="1.61" fill="#fff" stroke="#6e6e6e" stroke-width="0.9"/>
<circle cx="304.88" cy="52.77" r="1.61" fill="#fff" stroke="#6e6e6e" stroke-width="0.9"/>
<circle cx="314.02" cy="54.83" r="1.61" fill="#fff" stroke="#6e6e6e" stroke-width="0.9"/>
<circle cx="323.16" cy="63.59" r="1.61" fill="#fff" stroke="#6e6e6e" stroke-width="0.9"/>
<circle cx="332.3" cy="67.71" r="1.61" fill="#fff" stroke="#6e6e6e" stroke-width="0.9"/>
<circle cx="341.44" cy="72.34" r="1.61" fill="#fff" stroke="#6e6e6e" stroke-width="0.9"/>
<circle cx="350.58" cy="75.02" r="1.61" fill="#fff" stroke="#6e6e6e" stroke-width="0.9"/>
<polyline points="295.74,62.56 304.88,51.74 314.02,52.77 323.16,59.98 332.3,62.25 341.44,62.04 350.58,61.73 359.72,62.45 368.86,60.08 378,55.45 387.14,57.82" fill="none" stroke="#a2a2a2" stroke-width="1.2" stroke-linejoin="round" stroke-dasharray="2,1"/>
<line x1="304.88" y1="49.68" x2="304.88" y2="53.8" stroke="#a2a2a2" stroke-width="1" stroke-linecap="butt"/>
<line x1="302.48" y1="49.68" x2="307.28" y2="49.68" stroke="#a2a2a2" stroke-width="1" stroke-linecap="butt"/>
<line x1="302.48" y1="53.8" x2="307.28" y2="53.8" stroke="#a2a2a2" stroke-width="1" stroke-linecap="butt"/>
<line x1="314.02" y1="50.71" x2="314.02" y2="54.83" stroke="#a2a2a2" stroke-width="1" stroke-linecap="butt"/>
<line x1="311.62" y1="50.71" x2="316.42" y2="50.71" stroke="#a2a2a2" stroke-width="1" stroke-linecap="butt"/>
<line x1="311.62" y1="54.83" x2="316.42" y2="54.83" stroke="#a2a2a2" stroke-width="1" stroke-linecap="butt"/>
<line x1="323.16" y1="57.92" x2="323.16" y2="62.04" stroke="#a2a2a2" stroke-width="1" stroke-linecap="butt"/>
<line x1="320.76" y1="57.92" x2="325.56" y2="57.92" stroke="#a2a2a2" stroke-width="1" stroke-linecap="butt"/>
<line x1="320.76" y1="62.04" x2="325.56" y2="62.04" stroke="#a2a2a2" stroke-width="1" stroke-linecap="butt"/>
<line x1="332.3" y1="60.19" x2="332.3" y2="64.31" stroke="#a2a2a2" stroke-width="1" stroke-linecap="butt"/>
<line x1="329.9" y1="60.19" x2="334.7" y2="60.19" stroke="#a2a2a2" stroke-width="1" stroke-linecap="butt"/>
<line x1="329.9" y1="64.31" x2="334.7" y2="64.31" stroke="#a2a2a2" stroke-width="1" stroke-linecap="butt"/>
<line x1="341.44" y1="59.98" x2="341.44" y2="64.1" stroke="#a2a2a2" stroke-width="1" stroke-linecap="butt"/>
<line x1="339.04" y1="59.98" x2="343.84" y2="59.98" stroke="#a2a2a2" stroke-width="1" stroke-linecap="butt"/>
<line x1="339.04" y1="64.1" x2="343.84" y2="64.1" stroke="#a2a2a2" stroke-width="1" stroke-linecap="butt"/>
<line x1="350.58" y1="59.16" x2="350.58" y2="64.31" stroke="#a2a2a2" stroke-width="1" stroke-linecap="butt"/>
<line x1="348.18" y1="59.16" x2="352.98" y2="59.16" stroke="#a2a2a2" stroke-width="1" stroke-linecap="butt"/>
<line x1="348.18" y1="64.31" x2="352.98" y2="64.31" stroke="#a2a2a2" stroke-width="1" stroke-linecap="butt"/>
<line x1="359.72" y1="59.36" x2="359.72" y2="65.54" stroke="#a2a2a2" stroke-width="1" stroke-linecap="butt"/>
<line x1="357.32" y1="59.36" x2="362.12" y2="59.36" stroke="#a2a2a2" stroke-width="1" stroke-linecap="butt"/>
<line x1="357.32" y1="65.54" x2="362.12" y2="65.54" stroke="#a2a2a2" stroke-width="1" stroke-linecap="butt"/>
<line x1="368.86" y1="56.99" x2="368.86" y2="63.17" stroke="#a2a2a2" stroke-width="1" stroke-linecap="butt"/>
<line x1="366.46" y1="56.99" x2="371.26" y2="56.99" stroke="#a2a2a2" stroke-width="1" stroke-linecap="butt"/>
<line x1="366.46" y1="63.17" x2="371.26" y2="63.17" stroke="#a2a2a2" stroke-width="1" stroke-linecap="butt"/>
<line x1="378" y1="47.21" x2="378" y2="63.69" stroke="#a2a2a2" stroke-width="1" stroke-linecap="butt"/>
<line x1="375.6" y1="47.21" x2="380.4" y2="47.21" stroke="#a2a2a2" stroke-width="1" stroke-linecap="butt"/>
<line x1="375.6" y1="63.69" x2="380.4" y2="63.69" stroke="#a2a2a2" stroke-width="1" stroke-linecap="butt"/>
<line x1="387.14" y1="51.64" x2="387.14" y2="64" stroke="#a2a2a2" stroke-width="1" stroke-linecap="butt"/>
<line x1="384.74" y1="51.64" x2="389.54" y2="51.64" stroke="#a2a2a2" stroke-width="1" stroke-linecap="butt"/>
<line x1="384.74" y1="64" x2="389.54" y2="64" stroke="#a2a2a2" stroke-width="1" stroke-linecap="butt"/>
<polygon points="295.74,60.52 293.7,64.19 297.78,64.19" fill="#fff" stroke="#a2a2a2" stroke-width="0.8"/>
<polygon points="304.88,49.7 302.84,53.37 306.92,53.37" fill="#fff" stroke="#a2a2a2" stroke-width="0.8"/>
<polygon points="314.02,50.73 311.98,54.4 316.06,54.4" fill="#fff" stroke="#a2a2a2" stroke-width="0.8"/>
<polygon points="323.16,57.94 321.12,61.61 325.2,61.61" fill="#fff" stroke="#a2a2a2" stroke-width="0.8"/>
<polygon points="332.3,60.21 330.26,63.88 334.34,63.88" fill="#fff" stroke="#a2a2a2" stroke-width="0.8"/>
<polygon points="341.44,60 339.4,63.67 343.48,63.67" fill="#fff" stroke="#a2a2a2" stroke-width="0.8"/>
<polygon points="350.58,59.69 348.54,63.36 352.62,63.36" fill="#fff" stroke="#a2a2a2" stroke-width="0.8"/>
<polygon points="359.72,60.41 357.68,64.08 361.76,64.08" fill="#fff" stroke="#a2a2a2" stroke-width="0.8"/>
<polygon points="368.86,58.04 366.82,61.72 370.9,61.72" fill="#fff" stroke="#a2a2a2" stroke-width="0.8"/>
<polygon points="378,53.41 375.96,57.08 380.04,57.08" fill="#fff" stroke="#a2a2a2" stroke-width="0.8"/>
<polygon points="387.14,55.78 385.1,59.45 389.18,59.45" fill="#fff" stroke="#a2a2a2" stroke-width="0.8"/>
<polyline points="295.74,53.29 304.88,44.53 314.02,47 323.16,53.59 332.3,54.62 341.44,57.92 350.58,54.62 359.72,56.89 368.86,53.8 378,54.62 387.14,55.86" fill="none" stroke="#6e6e6e" stroke-width="1.5" stroke-linejoin="round"/>
<line x1="304.88" y1="43.5" x2="304.88" y2="45.56" stroke="#6e6e6e" stroke-width="1" stroke-linecap="butt"/>
<line x1="302.48" y1="43.5" x2="307.28" y2="43.5" stroke="#6e6e6e" stroke-width="1" stroke-linecap="butt"/>
<line x1="302.48" y1="45.56" x2="307.28" y2="45.56" stroke="#6e6e6e" stroke-width="1" stroke-linecap="butt"/>
<line x1="314.02" y1="45.97" x2="314.02" y2="48.03" stroke="#6e6e6e" stroke-width="1" stroke-linecap="butt"/>
<line x1="311.62" y1="45.97" x2="316.42" y2="45.97" stroke="#6e6e6e" stroke-width="1" stroke-linecap="butt"/>
<line x1="311.62" y1="48.03" x2="316.42" y2="48.03" stroke="#6e6e6e" stroke-width="1" stroke-linecap="butt"/>
<line x1="323.16" y1="52.05" x2="323.16" y2="55.14" stroke="#6e6e6e" stroke-width="1" stroke-linecap="butt"/>
<line x1="320.76" y1="52.05" x2="325.56" y2="52.05" stroke="#6e6e6e" stroke-width="1" stroke-linecap="butt"/>
<line x1="320.76" y1="55.14" x2="325.56" y2="55.14" stroke="#6e6e6e" stroke-width="1" stroke-linecap="butt"/>
<line x1="332.3" y1="53.08" x2="332.3" y2="56.17" stroke="#6e6e6e" stroke-width="1" stroke-linecap="butt"/>
<line x1="329.9" y1="53.08" x2="334.7" y2="53.08" stroke="#6e6e6e" stroke-width="1" stroke-linecap="butt"/>
<line x1="329.9" y1="56.17" x2="334.7" y2="56.17" stroke="#6e6e6e" stroke-width="1" stroke-linecap="butt"/>
<line x1="341.44" y1="56.38" x2="341.44" y2="59.47" stroke="#6e6e6e" stroke-width="1" stroke-linecap="butt"/>
<line x1="339.04" y1="56.38" x2="343.84" y2="56.38" stroke="#6e6e6e" stroke-width="1" stroke-linecap="butt"/>
<line x1="339.04" y1="59.47" x2="343.84" y2="59.47" stroke="#6e6e6e" stroke-width="1" stroke-linecap="butt"/>
<line x1="350.58" y1="53.08" x2="350.58" y2="56.17" stroke="#6e6e6e" stroke-width="1" stroke-linecap="butt"/>
<line x1="348.18" y1="53.08" x2="352.98" y2="53.08" stroke="#6e6e6e" stroke-width="1" stroke-linecap="butt"/>
<line x1="348.18" y1="56.17" x2="352.98" y2="56.17" stroke="#6e6e6e" stroke-width="1" stroke-linecap="butt"/>
<line x1="359.72" y1="55.34" x2="359.72" y2="58.44" stroke="#6e6e6e" stroke-width="1" stroke-linecap="butt"/>
<line x1="357.32" y1="55.34" x2="362.12" y2="55.34" stroke="#6e6e6e" stroke-width="1" stroke-linecap="butt"/>
<line x1="357.32" y1="58.44" x2="362.12" y2="58.44" stroke="#6e6e6e" stroke-width="1" stroke-linecap="butt"/>
<line x1="368.86" y1="52.26" x2="368.86" y2="55.35" stroke="#6e6e6e" stroke-width="1" stroke-linecap="butt"/>
<line x1="366.46" y1="52.26" x2="371.26" y2="52.26" stroke="#6e6e6e" stroke-width="1" stroke-linecap="butt"/>
<line x1="366.46" y1="55.35" x2="371.26" y2="55.35" stroke="#6e6e6e" stroke-width="1" stroke-linecap="butt"/>
<line x1="378" y1="53.08" x2="378" y2="56.17" stroke="#6e6e6e" stroke-width="1" stroke-linecap="butt"/>
<line x1="375.6" y1="53.08" x2="380.4" y2="53.08" stroke="#6e6e6e" stroke-width="1" stroke-linecap="butt"/>
<line x1="375.6" y1="56.17" x2="380.4" y2="56.17" stroke="#6e6e6e" stroke-width="1" stroke-linecap="butt"/>
<line x1="387.14" y1="54.31" x2="387.14" y2="57.41" stroke="#6e6e6e" stroke-width="1" stroke-linecap="butt"/>
<line x1="384.74" y1="54.31" x2="389.54" y2="54.31" stroke="#6e6e6e" stroke-width="1" stroke-linecap="butt"/>
<line x1="384.74" y1="57.41" x2="389.54" y2="57.41" stroke="#6e6e6e" stroke-width="1" stroke-linecap="butt"/>
<circle cx="295.74" cy="53.29" r="1.61" fill="#6e6e6e"/>
<circle cx="304.88" cy="44.53" r="1.61" fill="#6e6e6e"/>
<circle cx="314.02" cy="47" r="1.61" fill="#6e6e6e"/>
<circle cx="323.16" cy="53.59" r="1.61" fill="#6e6e6e"/>
<circle cx="332.3" cy="54.62" r="1.61" fill="#6e6e6e"/>
<circle cx="341.44" cy="57.92" r="1.61" fill="#6e6e6e"/>
<circle cx="350.58" cy="54.62" r="1.61" fill="#6e6e6e"/>
<circle cx="359.72" cy="56.89" r="1.61" fill="#6e6e6e"/>
<circle cx="368.86" cy="53.8" r="1.61" fill="#6e6e6e"/>
<circle cx="378" cy="54.62" r="1.61" fill="#6e6e6e"/>
<circle cx="387.14" cy="55.86" r="1.61" fill="#6e6e6e"/>
<polyline points="295.74,43.5 304.88,42.98 314.02,45.56 323.16,47.62 332.3,48.14 341.44,47.83 350.58,45.35 359.72,46.59 368.86,39.69 378,39.28 387.14,40.2" fill="none" stroke="#a2a2a2" stroke-width="1.5" stroke-linejoin="round"/>
<line x1="304.88" y1="41.95" x2="304.88" y2="44.02" stroke="#a2a2a2" stroke-width="1" stroke-linecap="butt"/>
<line x1="302.48" y1="41.95" x2="307.28" y2="41.95" stroke="#a2a2a2" stroke-width="1" stroke-linecap="butt"/>
<line x1="302.48" y1="44.02" x2="307.28" y2="44.02" stroke="#a2a2a2" stroke-width="1" stroke-linecap="butt"/>
<line x1="314.02" y1="44.53" x2="314.02" y2="46.59" stroke="#a2a2a2" stroke-width="1" stroke-linecap="butt"/>
<line x1="311.62" y1="44.53" x2="316.42" y2="44.53" stroke="#a2a2a2" stroke-width="1" stroke-linecap="butt"/>
<line x1="311.62" y1="46.59" x2="316.42" y2="46.59" stroke="#a2a2a2" stroke-width="1" stroke-linecap="butt"/>
<line x1="323.16" y1="46.59" x2="323.16" y2="48.65" stroke="#a2a2a2" stroke-width="1" stroke-linecap="butt"/>
<line x1="320.76" y1="46.59" x2="325.56" y2="46.59" stroke="#a2a2a2" stroke-width="1" stroke-linecap="butt"/>
<line x1="320.76" y1="48.65" x2="325.56" y2="48.65" stroke="#a2a2a2" stroke-width="1" stroke-linecap="butt"/>
<line x1="332.3" y1="47.11" x2="332.3" y2="49.17" stroke="#a2a2a2" stroke-width="1" stroke-linecap="butt"/>
<line x1="329.9" y1="47.11" x2="334.7" y2="47.11" stroke="#a2a2a2" stroke-width="1" stroke-linecap="butt"/>
<line x1="329.9" y1="49.17" x2="334.7" y2="49.17" stroke="#a2a2a2" stroke-width="1" stroke-linecap="butt"/>
<line x1="341.44" y1="46.8" x2="341.44" y2="48.86" stroke="#a2a2a2" stroke-width="1" stroke-linecap="butt"/>
<line x1="339.04" y1="46.8" x2="343.84" y2="46.8" stroke="#a2a2a2" stroke-width="1" stroke-linecap="butt"/>
<line x1="339.04" y1="48.86" x2="343.84" y2="48.86" stroke="#a2a2a2" stroke-width="1" stroke-linecap="butt"/>
<line x1="350.58" y1="44.32" x2="350.58" y2="46.38" stroke="#a2a2a2" stroke-width="1" stroke-linecap="butt"/>
<line x1="348.18" y1="44.32" x2="352.98" y2="44.32" stroke="#a2a2a2" stroke-width="1" stroke-linecap="butt"/>
<line x1="348.18" y1="46.38" x2="352.98" y2="46.38" stroke="#a2a2a2" stroke-width="1" stroke-linecap="butt"/>
<line x1="359.72" y1="45.56" x2="359.72" y2="47.62" stroke="#a2a2a2" stroke-width="1" stroke-linecap="butt"/>
<line x1="357.32" y1="45.56" x2="362.12" y2="45.56" stroke="#a2a2a2" stroke-width="1" stroke-linecap="butt"/>
<line x1="357.32" y1="47.62" x2="362.12" y2="47.62" stroke="#a2a2a2" stroke-width="1" stroke-linecap="butt"/>
<line x1="368.86" y1="38.66" x2="368.86" y2="40.72" stroke="#a2a2a2" stroke-width="1" stroke-linecap="butt"/>
<line x1="366.46" y1="38.66" x2="371.26" y2="38.66" stroke="#a2a2a2" stroke-width="1" stroke-linecap="butt"/>
<line x1="366.46" y1="40.72" x2="371.26" y2="40.72" stroke="#a2a2a2" stroke-width="1" stroke-linecap="butt"/>
<line x1="378" y1="38.25" x2="378" y2="40.31" stroke="#a2a2a2" stroke-width="1" stroke-linecap="butt"/>
<line x1="375.6" y1="38.25" x2="380.4" y2="38.25" stroke="#a2a2a2" stroke-width="1" stroke-linecap="butt"/>
<line x1="375.6" y1="40.31" x2="380.4" y2="40.31" stroke="#a2a2a2" stroke-width="1" stroke-linecap="butt"/>
<line x1="387.14" y1="39.17" x2="387.14" y2="41.23" stroke="#a2a2a2" stroke-width="1" stroke-linecap="butt"/>
<line x1="384.74" y1="39.17" x2="389.54" y2="39.17" stroke="#a2a2a2" stroke-width="1" stroke-linecap="butt"/>
<line x1="384.74" y1="41.23" x2="389.54" y2="41.23" stroke="#a2a2a2" stroke-width="1" stroke-linecap="butt"/>
<polygon points="295.74,41.46 293.7,45.13 297.78,45.13" fill="#a2a2a2"/>
<polygon points="304.88,40.95 302.84,44.62 306.92,44.62" fill="#a2a2a2"/>
<polygon points="314.02,43.52 311.98,47.19 316.06,47.19" fill="#a2a2a2"/>
<polygon points="323.16,45.58 321.12,49.25 325.2,49.25" fill="#a2a2a2"/>
<polygon points="332.3,46.1 330.26,49.77 334.34,49.77" fill="#a2a2a2"/>
<polygon points="341.44,45.79 339.4,49.46 343.48,49.46" fill="#a2a2a2"/>
<polygon points="350.58,43.31 348.54,46.99 352.62,46.99" fill="#a2a2a2"/>
<polygon points="359.72,44.55 357.68,48.22 361.76,48.22" fill="#a2a2a2"/>
<polygon points="368.86,37.65 366.82,41.32 370.9,41.32" fill="#a2a2a2"/>
<polygon points="378,37.24 375.96,40.91 380.04,40.91" fill="#a2a2a2"/>
<polygon points="387.14,38.16 385.1,41.84 389.18,41.84" fill="#a2a2a2"/>
<line x1="294.6" y1="33.2" x2="396.88" y2="33.2" stroke="#000" stroke-width="1.7" stroke-linecap="butt"/>
<line x1="304.88" y1="33.2" x2="304.88" y2="36" stroke="#000" stroke-width="1.53" stroke-linecap="butt"/>
<text x="304.88" y="41.3" font-size="5.8" text-anchor="middle" font-weight="bold" fill="#000">2</text>
<line x1="323.16" y1="33.2" x2="323.16" y2="36" stroke="#000" stroke-width="1.53" stroke-linecap="butt"/>
<text x="323.16" y="41.3" font-size="5.8" text-anchor="middle" font-weight="bold" fill="#000">4</text>
<line x1="341.44" y1="33.2" x2="341.44" y2="36" stroke="#000" stroke-width="1.53" stroke-linecap="butt"/>
<text x="341.44" y="41.3" font-size="5.8" text-anchor="middle" font-weight="bold" fill="#000">6</text>
<line x1="359.72" y1="33.2" x2="359.72" y2="36" stroke="#000" stroke-width="1.53" stroke-linecap="butt"/>
<text x="359.72" y="41.3" font-size="5.8" text-anchor="middle" font-weight="bold" fill="#000">8</text>
<line x1="378" y1="33.2" x2="378" y2="36" stroke="#000" stroke-width="1.53" stroke-linecap="butt"/>
<text x="378" y="41.3" font-size="5.8" text-anchor="middle" font-weight="bold" fill="#000">10</text>
<line x1="396.28" y1="33.2" x2="396.28" y2="36" stroke="#000" stroke-width="1.53" stroke-linecap="butt"/>
<text x="396.28" y="41.3" font-size="5.8" text-anchor="middle" font-weight="bold" fill="#000">12</text>
<polyline points="295.74,40.41 304.88,35.26 314.02,32.38 323.16,31.14 332.3,30.63 341.44,31.76 350.58,27.84 359.72,27.02 368.86,24.14 378,25.99 387.14,27.02" fill="none" stroke="#000" stroke-width="1.6" stroke-linejoin="round"/>
<line x1="304.88" y1="34.23" x2="304.88" y2="36.29" stroke="#000" stroke-width="1" stroke-linecap="butt"/>
<line x1="302.48" y1="34.23" x2="307.28" y2="34.23" stroke="#000" stroke-width="1" stroke-linecap="butt"/>
<line x1="302.48" y1="36.29" x2="307.28" y2="36.29" stroke="#000" stroke-width="1" stroke-linecap="butt"/>
<line x1="314.02" y1="31.35" x2="314.02" y2="33.41" stroke="#000" stroke-width="1" stroke-linecap="butt"/>
<line x1="311.62" y1="31.35" x2="316.42" y2="31.35" stroke="#000" stroke-width="1" stroke-linecap="butt"/>
<line x1="311.62" y1="33.41" x2="316.42" y2="33.41" stroke="#000" stroke-width="1" stroke-linecap="butt"/>
<line x1="323.16" y1="29.6" x2="323.16" y2="32.69" stroke="#000" stroke-width="1" stroke-linecap="butt"/>
<line x1="320.76" y1="29.6" x2="325.56" y2="29.6" stroke="#000" stroke-width="1" stroke-linecap="butt"/>
<line x1="320.76" y1="32.69" x2="325.56" y2="32.69" stroke="#000" stroke-width="1" stroke-linecap="butt"/>
<line x1="332.3" y1="27.54" x2="332.3" y2="33.72" stroke="#000" stroke-width="1" stroke-linecap="butt"/>
<line x1="329.9" y1="27.54" x2="334.7" y2="27.54" stroke="#000" stroke-width="1" stroke-linecap="butt"/>
<line x1="329.9" y1="33.72" x2="334.7" y2="33.72" stroke="#000" stroke-width="1" stroke-linecap="butt"/>
<line x1="341.44" y1="30.73" x2="341.44" y2="32.79" stroke="#000" stroke-width="1" stroke-linecap="butt"/>
<line x1="339.04" y1="30.73" x2="343.84" y2="30.73" stroke="#000" stroke-width="1" stroke-linecap="butt"/>
<line x1="339.04" y1="32.79" x2="343.84" y2="32.79" stroke="#000" stroke-width="1" stroke-linecap="butt"/>
<line x1="350.58" y1="26.3" x2="350.58" y2="29.39" stroke="#000" stroke-width="1" stroke-linecap="butt"/>
<line x1="348.18" y1="26.3" x2="352.98" y2="26.3" stroke="#000" stroke-width="1" stroke-linecap="butt"/>
<line x1="348.18" y1="29.39" x2="352.98" y2="29.39" stroke="#000" stroke-width="1" stroke-linecap="butt"/>
<line x1="359.72" y1="24.96" x2="359.72" y2="29.08" stroke="#000" stroke-width="1" stroke-linecap="butt"/>
<line x1="357.32" y1="24.96" x2="362.12" y2="24.96" stroke="#000" stroke-width="1" stroke-linecap="butt"/>
<line x1="357.32" y1="29.08" x2="362.12" y2="29.08" stroke="#000" stroke-width="1" stroke-linecap="butt"/>
<line x1="368.86" y1="22.08" x2="368.86" y2="26.2" stroke="#000" stroke-width="1" stroke-linecap="butt"/>
<line x1="366.46" y1="22.08" x2="371.26" y2="22.08" stroke="#000" stroke-width="1" stroke-linecap="butt"/>
<line x1="366.46" y1="26.2" x2="371.26" y2="26.2" stroke="#000" stroke-width="1" stroke-linecap="butt"/>
<line x1="378" y1="23.42" x2="378" y2="28.57" stroke="#000" stroke-width="1" stroke-linecap="butt"/>
<line x1="375.6" y1="23.42" x2="380.4" y2="23.42" stroke="#000" stroke-width="1" stroke-linecap="butt"/>
<line x1="375.6" y1="28.57" x2="380.4" y2="28.57" stroke="#000" stroke-width="1" stroke-linecap="butt"/>
<line x1="387.14" y1="23.93" x2="387.14" y2="30.11" stroke="#000" stroke-width="1" stroke-linecap="butt"/>
<line x1="384.74" y1="23.93" x2="389.54" y2="23.93" stroke="#000" stroke-width="1" stroke-linecap="butt"/>
<line x1="384.74" y1="30.11" x2="389.54" y2="30.11" stroke="#000" stroke-width="1" stroke-linecap="butt"/>
<rect x="293.56" y="38.23" width="4.37" height="4.37" fill="#000"/>
<rect x="302.69" y="33.08" width="4.37" height="4.37" fill="#000"/>
<rect x="311.84" y="30.19" width="4.37" height="4.37" fill="#000"/>
<rect x="320.98" y="28.96" width="4.37" height="4.37" fill="#000"/>
<rect x="330.12" y="28.44" width="4.37" height="4.37" fill="#000"/>
<rect x="339.26" y="29.57" width="4.37" height="4.37" fill="#000"/>
<rect x="348.4" y="25.66" width="4.37" height="4.37" fill="#000"/>
<rect x="357.54" y="24.84" width="4.37" height="4.37" fill="#000"/>
<rect x="366.68" y="21.95" width="4.37" height="4.37" fill="#000"/>
<rect x="375.81" y="23.81" width="4.37" height="4.37" fill="#000"/>
<rect x="384.96" y="24.84" width="4.37" height="4.37" fill="#000"/>
<line x1="402" y1="24.9" x2="412.8" y2="24.9" stroke="#000" stroke-width="2" stroke-linecap="butt"/>
<rect x="405.21" y="22.71" width="4.37" height="4.37" fill="#000"/>
<text x="414.8" y="27.31" font-size="6.7" text-anchor="start" font-weight="bold" fill="#000">only BM (n=5)</text>
<line x1="402" y1="35" x2="412.8" y2="35" stroke="#6e6e6e" stroke-width="1.5" stroke-linecap="butt"/>
<circle cx="407.4" cy="35" r="2.18" fill="#6e6e6e"/>
<text x="414.8" y="37.41" font-size="6.7" text-anchor="start" font-weight="bold" fill="#000">0.5 X 10 <tspan dy="-2.2" font-size="4.6">6</tspan><tspan dy="2.2"> </tspan>wt T cells (n=20)</text>
<line x1="402" y1="44.1" x2="412.8" y2="44.1" stroke="#a2a2a2" stroke-width="1.5" stroke-linecap="butt"/>
<polygon points="407.4,41.34 404.64,46.31 410.16,46.31" fill="#a2a2a2"/>
<text x="414.8" y="46.51" font-size="6.7" text-anchor="start" font-weight="bold" fill="#000">0.5 X 10 <tspan dy="-2.2" font-size="4.6">6</tspan><tspan dy="2.2"> </tspan>memTNF T cells (n=20)</text>
<line x1="402" y1="53" x2="412.8" y2="53" stroke="#6e6e6e" stroke-width="1.5" stroke-linecap="butt" stroke-dasharray="2,1"/>
<circle cx="407.4" cy="53" r="2.18" fill="none" stroke="#6e6e6e" stroke-width="0.9"/>
<text x="414.8" y="55.41" font-size="6.7" text-anchor="start" font-weight="bold" fill="#000">10<tspan dy="-2.2" font-size="4.6">6</tspan><tspan dy="2.2"> </tspan>wt T cells (n=10)</text>
<line x1="402" y1="62.2" x2="412.8" y2="62.2" stroke="#a2a2a2" stroke-width="1.5" stroke-linecap="butt" stroke-dasharray="2,1"/>
<polygon points="407.4,59.44 404.64,64.41 410.16,64.41" fill="none" stroke="#a2a2a2" stroke-width="0.8"/>
<text x="414.8" y="64.61" font-size="6.7" text-anchor="start" font-weight="bold" fill="#000">10<tspan dy="-2.2" font-size="4.6">6</tspan><tspan dy="2.2"> </tspan>memTNF T cells (n=10)</text>
<text x="0.9" y="125.4" font-size="15.4" text-anchor="start" font-weight="bold" fill="#000">B</text>
<line x1="25.5" y1="132.7" x2="25.5" y2="201.2" stroke="#000" stroke-width="1.7" stroke-linecap="butt"/>
<line x1="22.7" y1="133.3" x2="25.5" y2="133.3" stroke="#000" stroke-width="1.53" stroke-linecap="butt"/>
<text x="22.6" y="135.32" font-size="5.6" text-anchor="end" font-weight="bold" fill="#000">100</text>
<line x1="22.7" y1="150.12" x2="25.5" y2="150.12" stroke="#000" stroke-width="1.53" stroke-linecap="butt"/>
<text x="22.6" y="152.14" font-size="5.6" text-anchor="end" font-weight="bold" fill="#000">75</text>
<line x1="22.7" y1="166.95" x2="25.5" y2="166.95" stroke="#000" stroke-width="1.53" stroke-linecap="butt"/>
<text x="22.6" y="168.97" font-size="5.6" text-anchor="end" font-weight="bold" fill="#000">50</text>
<line x1="22.7" y1="183.78" x2="25.5" y2="183.78" stroke="#000" stroke-width="1.53" stroke-linecap="butt"/>
<text x="22.6" y="185.79" font-size="5.6" text-anchor="end" font-weight="bold" fill="#000">25</text>
<line x1="22.7" y1="200.6" x2="25.5" y2="200.6" stroke="#000" stroke-width="1.53" stroke-linecap="butt"/>
<text x="22.6" y="202.62" font-size="5.6" text-anchor="end" font-weight="bold" fill="#000">0</text>
<line x1="24.9" y1="200.6" x2="128.1" y2="200.6" stroke="#000" stroke-width="1.7" stroke-linecap="butt"/>
<line x1="25.8" y1="200.6" x2="25.8" y2="203.4" stroke="#000" stroke-width="1.53" stroke-linecap="butt"/>
<text x="25.8" y="208.6" font-size="5.8" text-anchor="middle" font-weight="bold" fill="#000">0</text>
<line x1="46.14" y1="200.6" x2="46.14" y2="203.4" stroke="#000" stroke-width="1.53" stroke-linecap="butt"/>
<text x="46.14" y="208.6" font-size="5.8" text-anchor="middle" font-weight="bold" fill="#000">20</text>
<line x1="66.48" y1="200.6" x2="66.48" y2="203.4" stroke="#000" stroke-width="1.53" stroke-linecap="butt"/>
<text x="66.48" y="208.6" font-size="5.8" text-anchor="middle" font-weight="bold" fill="#000">40</text>
<line x1="86.82" y1="200.6" x2="86.82" y2="203.4" stroke="#000" stroke-width="1.53" stroke-linecap="butt"/>
<text x="86.82" y="208.6" font-size="5.8" text-anchor="middle" font-weight="bold" fill="#000">60</text>
<line x1="107.16" y1="200.6" x2="107.16" y2="203.4" stroke="#000" stroke-width="1.53" stroke-linecap="butt"/>
<text x="107.16" y="208.6" font-size="5.8" text-anchor="middle" font-weight="bold" fill="#000">80</text>
<line x1="127.5" y1="200.6" x2="127.5" y2="203.4" stroke="#000" stroke-width="1.53" stroke-linecap="butt"/>
<text x="127.5" y="208.6" font-size="5.8" text-anchor="middle" font-weight="bold" fill="#000">100</text>
<text x="11.3" y="166.6" font-size="7" text-anchor="middle" font-weight="bold" fill="#000" transform="rotate(-90 11.3 166.6)">SURVIVAL (%)</text>
<text x="78" y="219.6" font-size="7.15" text-anchor="middle" font-weight="bold" fill="#000">DAYS AFTER BMT</text>
<line x1="32.4" y1="133.3" x2="113.7" y2="133.3" stroke="#8a8a8a" stroke-width="0.9" stroke-linecap="butt"/>
<rect x="111.7" y="131.31" width="3.99" height="3.99" fill="#000"/>
<polyline points="32.4,133.3 32.6,133.3 32.6,136.8 54.6,136.8 54.6,140.6 75.7,140.6 75.7,144.6 113.7,144.6" fill="none" stroke="#a2a2a2" stroke-width="1.4" stroke-linejoin="miter"/>
<polygon points="54.6,138.56 52.56,142.23 56.64,142.23" fill="#a2a2a2"/>
<polygon points="75.7,142.56 73.66,146.23 77.74,146.23" fill="#a2a2a2"/>
<polygon points="113.7,142.56 111.66,146.23 115.74,146.23" fill="#a2a2a2"/>
<polyline points="32.8,136.8 33,136.8 33,155.9 34.2,155.9 34.2,160.2 38.7,160.2 38.7,163.3 54.4,163.3 54.4,171.5 63.3,171.5 63.3,183.1 70.5,183.1 70.5,186.6 77.8,186.6 77.8,190.8 85.3,190.8 85.3,194.1 113.7,194.1" fill="none" stroke="#6e6e6e" stroke-width="1.4" stroke-linejoin="miter"/>
<circle cx="33" cy="155.9" r="1.61" fill="#6e6e6e"/>
<circle cx="34.2" cy="160.2" r="1.61" fill="#6e6e6e"/>
<circle cx="38.7" cy="163.3" r="1.61" fill="#6e6e6e"/>
<circle cx="54.4" cy="171.5" r="1.61" fill="#6e6e6e"/>
<circle cx="63.3" cy="183.1" r="1.61" fill="#6e6e6e"/>
<circle cx="70.5" cy="186.6" r="1.61" fill="#6e6e6e"/>
<circle cx="77.8" cy="190.8" r="1.61" fill="#6e6e6e"/>
<circle cx="85.3" cy="194.1" r="1.61" fill="#6e6e6e"/>
<circle cx="113.7" cy="194.1" r="1.61" fill="#6e6e6e"/>
<text x="103" y="164.9" font-size="6.6" text-anchor="start" font-weight="bold" fill="#000"><tspan font-style="italic">P</tspan> &lt; .01</text>
<text x="101.9" y="171.7" font-size="6.2" text-anchor="start" font-weight="bold" fill="#000">for</text>
<circle cx="113.4" cy="169.7" r="1.8" fill="#6e6e6e"/>
<text x="118.5" y="171.7" font-size="6.2" text-anchor="start" font-weight="bold" fill="#000">vs</text>
<polygon points="129.5,167.64 127.34,171.53 131.66,171.53" fill="#a2a2a2"/>
<line x1="158.6" y1="131.9" x2="158.6" y2="200.9" stroke="#000" stroke-width="1.7" stroke-linecap="butt"/>
<line x1="155.8" y1="200.3" x2="158.6" y2="200.3" stroke="#000" stroke-width="1.53" stroke-linecap="butt"/>
<text x="155.5" y="202.39" font-size="5.8" text-anchor="end" font-weight="bold" fill="#000">0</text>
<line x1="155.8" y1="189" x2="158.6" y2="189" stroke="#000" stroke-width="1.53" stroke-linecap="butt"/>
<text x="155.5" y="191.09" font-size="5.8" text-anchor="end" font-weight="bold" fill="#000">1</text>
<line x1="155.8" y1="177.7" x2="158.6" y2="177.7" stroke="#000" stroke-width="1.53" stroke-linecap="butt"/>
<text x="155.5" y="179.79" font-size="5.8" text-anchor="end" font-weight="bold" fill="#000">2</text>
<line x1="155.8" y1="166.4" x2="158.6" y2="166.4" stroke="#000" stroke-width="1.53" stroke-linecap="butt"/>
<text x="155.5" y="168.49" font-size="5.8" text-anchor="end" font-weight="bold" fill="#000">3</text>
<line x1="155.8" y1="155.1" x2="158.6" y2="155.1" stroke="#000" stroke-width="1.53" stroke-linecap="butt"/>
<text x="155.5" y="157.19" font-size="5.8" text-anchor="end" font-weight="bold" fill="#000">4</text>
<line x1="155.8" y1="143.8" x2="158.6" y2="143.8" stroke="#000" stroke-width="1.53" stroke-linecap="butt"/>
<text x="155.5" y="145.89" font-size="5.8" text-anchor="end" font-weight="bold" fill="#000">5</text>
<line x1="155.8" y1="132.5" x2="158.6" y2="132.5" stroke="#000" stroke-width="1.53" stroke-linecap="butt"/>
<text x="155.5" y="134.59" font-size="5.8" text-anchor="end" font-weight="bold" fill="#000">6</text>
<line x1="158" y1="200.3" x2="260.8" y2="200.3" stroke="#000" stroke-width="1.7" stroke-linecap="butt"/>
<line x1="159.4" y1="200.3" x2="159.4" y2="203.1" stroke="#000" stroke-width="1.53" stroke-linecap="butt"/>
<text x="159.4" y="208.2" font-size="5.8" text-anchor="middle" font-weight="bold" fill="#000">0</text>
<line x1="176.2" y1="200.3" x2="176.2" y2="203.1" stroke="#000" stroke-width="1.53" stroke-linecap="butt"/>
<text x="176.2" y="208.2" font-size="5.8" text-anchor="middle" font-weight="bold" fill="#000">2</text>
<line x1="193" y1="200.3" x2="193" y2="203.1" stroke="#000" stroke-width="1.53" stroke-linecap="butt"/>
<text x="193" y="208.2" font-size="5.8" text-anchor="middle" font-weight="bold" fill="#000">4</text>
<line x1="209.8" y1="200.3" x2="209.8" y2="203.1" stroke="#000" stroke-width="1.53" stroke-linecap="butt"/>
<text x="209.8" y="208.2" font-size="5.8" text-anchor="middle" font-weight="bold" fill="#000">6</text>
<line x1="226.6" y1="200.3" x2="226.6" y2="203.1" stroke="#000" stroke-width="1.53" stroke-linecap="butt"/>
<text x="226.6" y="208.2" font-size="5.8" text-anchor="middle" font-weight="bold" fill="#000">8</text>
<line x1="243.4" y1="200.3" x2="243.4" y2="203.1" stroke="#000" stroke-width="1.53" stroke-linecap="butt"/>
<text x="243.4" y="208.2" font-size="5.8" text-anchor="middle" font-weight="bold" fill="#000">10</text>
<line x1="260.2" y1="200.3" x2="260.2" y2="203.1" stroke="#000" stroke-width="1.53" stroke-linecap="butt"/>
<text x="260.2" y="208.2" font-size="5.8" text-anchor="middle" font-weight="bold" fill="#000">12</text>
<text x="142.8" y="166" font-size="7" text-anchor="middle" font-weight="bold" fill="#000" transform="rotate(-90 142.8 166)">CLINICAL GVHD</text>
<text x="149.2" y="166" font-size="7" text-anchor="middle" font-weight="bold" fill="#000" transform="rotate(-90 149.2 166)">SCORE</text>
<text x="213.5" y="219.6" font-size="7.05" text-anchor="middle" font-weight="bold" fill="#000">WEEKS AFTER BMT</text>
<polyline points="159.4,200.3 167.8,185.95 176.2,185.95 184.6,185.95 193,178.04 201.4,190.02 209.8,188.55 218.2,184.48 226.6,190.81 235,193.07 243.4,190.81 251.8,186.29" fill="none" stroke="#a2a2a2" stroke-width="1.5" stroke-linejoin="round"/>
<line x1="167.8" y1="183.46" x2="167.8" y2="188.44" stroke="#a2a2a2" stroke-width="1" stroke-linecap="butt"/>
<line x1="165.4" y1="183.46" x2="170.2" y2="183.46" stroke="#a2a2a2" stroke-width="1" stroke-linecap="butt"/>
<line x1="165.4" y1="188.44" x2="170.2" y2="188.44" stroke="#a2a2a2" stroke-width="1" stroke-linecap="butt"/>
<line x1="176.2" y1="183.69" x2="176.2" y2="188.21" stroke="#a2a2a2" stroke-width="1" stroke-linecap="butt"/>
<line x1="173.8" y1="183.69" x2="178.6" y2="183.69" stroke="#a2a2a2" stroke-width="1" stroke-linecap="butt"/>
<line x1="173.8" y1="188.21" x2="178.6" y2="188.21" stroke="#a2a2a2" stroke-width="1" stroke-linecap="butt"/>
<line x1="184.6" y1="183.69" x2="184.6" y2="188.21" stroke="#a2a2a2" stroke-width="1" stroke-linecap="butt"/>
<line x1="182.2" y1="183.69" x2="187" y2="183.69" stroke="#a2a2a2" stroke-width="1" stroke-linecap="butt"/>
<line x1="182.2" y1="188.21" x2="187" y2="188.21" stroke="#a2a2a2" stroke-width="1" stroke-linecap="butt"/>
<line x1="193" y1="174.08" x2="193" y2="181.99" stroke="#a2a2a2" stroke-width="1" stroke-linecap="butt"/>
<line x1="190.6" y1="174.08" x2="195.4" y2="174.08" stroke="#a2a2a2" stroke-width="1" stroke-linecap="butt"/>
<line x1="190.6" y1="181.99" x2="195.4" y2="181.99" stroke="#a2a2a2" stroke-width="1" stroke-linecap="butt"/>
<line x1="201.4" y1="186.63" x2="201.4" y2="193.41" stroke="#a2a2a2" stroke-width="1" stroke-linecap="butt"/>
<line x1="199" y1="186.63" x2="203.8" y2="186.63" stroke="#a2a2a2" stroke-width="1" stroke-linecap="butt"/>
<line x1="199" y1="193.41" x2="203.8" y2="193.41" stroke="#a2a2a2" stroke-width="1" stroke-linecap="butt"/>
<line x1="209.8" y1="185.16" x2="209.8" y2="191.94" stroke="#a2a2a2" stroke-width="1" stroke-linecap="butt"/>
<line x1="207.4" y1="185.16" x2="212.2" y2="185.16" stroke="#a2a2a2" stroke-width="1" stroke-linecap="butt"/>
<line x1="207.4" y1="191.94" x2="212.2" y2="191.94" stroke="#a2a2a2" stroke-width="1" stroke-linecap="butt"/>
<line x1="218.2" y1="180.53" x2="218.2" y2="188.44" stroke="#a2a2a2" stroke-width="1" stroke-linecap="butt"/>
<line x1="215.8" y1="180.53" x2="220.6" y2="180.53" stroke="#a2a2a2" stroke-width="1" stroke-linecap="butt"/>
<line x1="215.8" y1="188.44" x2="220.6" y2="188.44" stroke="#a2a2a2" stroke-width="1" stroke-linecap="butt"/>
<line x1="226.6" y1="186.85" x2="226.6" y2="194.76" stroke="#a2a2a2" stroke-width="1" stroke-linecap="butt"/>
<line x1="224.2" y1="186.85" x2="229" y2="186.85" stroke="#a2a2a2" stroke-width="1" stroke-linecap="butt"/>
<line x1="224.2" y1="194.76" x2="229" y2="194.76" stroke="#a2a2a2" stroke-width="1" stroke-linecap="butt"/>
<line x1="235" y1="189.11" x2="235" y2="197.02" stroke="#a2a2a2" stroke-width="1" stroke-linecap="butt"/>
<line x1="232.6" y1="189.11" x2="237.4" y2="189.11" stroke="#a2a2a2" stroke-width="1" stroke-linecap="butt"/>
<line x1="232.6" y1="197.02" x2="237.4" y2="197.02" stroke="#a2a2a2" stroke-width="1" stroke-linecap="butt"/>
<line x1="243.4" y1="186.85" x2="243.4" y2="194.76" stroke="#a2a2a2" stroke-width="1" stroke-linecap="butt"/>
<line x1="241" y1="186.85" x2="245.8" y2="186.85" stroke="#a2a2a2" stroke-width="1" stroke-linecap="butt"/>
<line x1="241" y1="194.76" x2="245.8" y2="194.76" stroke="#a2a2a2" stroke-width="1" stroke-linecap="butt"/>
<line x1="251.8" y1="182.9" x2="251.8" y2="189.68" stroke="#a2a2a2" stroke-width="1" stroke-linecap="butt"/>
<line x1="249.4" y1="182.9" x2="254.2" y2="182.9" stroke="#a2a2a2" stroke-width="1" stroke-linecap="butt"/>
<line x1="249.4" y1="189.68" x2="254.2" y2="189.68" stroke="#a2a2a2" stroke-width="1" stroke-linecap="butt"/>
<polygon points="159.4,198.26 157.36,201.93 161.44,201.93" fill="#a2a2a2"/>
<polygon points="167.8,183.91 165.76,187.58 169.84,187.58" fill="#a2a2a2"/>
<polygon points="176.2,183.91 174.16,187.58 178.24,187.58" fill="#a2a2a2"/>
<polygon points="184.6,183.91 182.56,187.58 186.64,187.58" fill="#a2a2a2"/>
<polygon points="193,176 190.96,179.67 195.04,179.67" fill="#a2a2a2"/>
<polygon points="201.4,187.98 199.36,191.65 203.44,191.65" fill="#a2a2a2"/>
<polygon points="209.8,186.51 207.76,190.18 211.84,190.18" fill="#a2a2a2"/>
<polygon points="218.2,182.44 216.16,186.11 220.24,186.11" fill="#a2a2a2"/>
<polygon points="226.6,188.77 224.56,192.44 228.64,192.44" fill="#a2a2a2"/>
<polygon points="235,191.03 232.96,194.7 237.04,194.7" fill="#a2a2a2"/>
<polygon points="243.4,188.77 241.36,192.44 245.44,192.44" fill="#a2a2a2"/>
<polygon points="251.8,184.25 249.76,187.92 253.84,187.92" fill="#a2a2a2"/>
<polyline points="159.4,200.3 167.8,180.53 176.2,174.31 184.6,175.44 193,159.06 201.4,164.37 209.8,165.04 218.2,159.06 226.6,157.59 235,162.9 243.4,167.42 251.8,162.11" fill="none" stroke="#6e6e6e" stroke-width="1.5" stroke-linejoin="round"/>
<line x1="167.8" y1="176.57" x2="167.8" y2="184.48" stroke="#6e6e6e" stroke-width="1" stroke-linecap="butt"/>
<line x1="165.4" y1="176.57" x2="170.2" y2="176.57" stroke="#6e6e6e" stroke-width="1" stroke-linecap="butt"/>
<line x1="165.4" y1="184.48" x2="170.2" y2="184.48" stroke="#6e6e6e" stroke-width="1" stroke-linecap="butt"/>
<line x1="176.2" y1="170.35" x2="176.2" y2="178.27" stroke="#6e6e6e" stroke-width="1" stroke-linecap="butt"/>
<line x1="173.8" y1="170.35" x2="178.6" y2="170.35" stroke="#6e6e6e" stroke-width="1" stroke-linecap="butt"/>
<line x1="173.8" y1="178.27" x2="178.6" y2="178.27" stroke="#6e6e6e" stroke-width="1" stroke-linecap="butt"/>
<line x1="184.6" y1="172.05" x2="184.6" y2="178.83" stroke="#6e6e6e" stroke-width="1" stroke-linecap="butt"/>
<line x1="182.2" y1="172.05" x2="187" y2="172.05" stroke="#6e6e6e" stroke-width="1" stroke-linecap="butt"/>
<line x1="182.2" y1="178.83" x2="187" y2="178.83" stroke="#6e6e6e" stroke-width="1" stroke-linecap="butt"/>
<line x1="193" y1="156.23" x2="193" y2="161.88" stroke="#6e6e6e" stroke-width="1" stroke-linecap="butt"/>
<line x1="190.6" y1="156.23" x2="195.4" y2="156.23" stroke="#6e6e6e" stroke-width="1" stroke-linecap="butt"/>
<line x1="190.6" y1="161.88" x2="195.4" y2="161.88" stroke="#6e6e6e" stroke-width="1" stroke-linecap="butt"/>
<line x1="201.4" y1="162.11" x2="201.4" y2="166.63" stroke="#6e6e6e" stroke-width="1" stroke-linecap="butt"/>
<line x1="199" y1="162.11" x2="203.8" y2="162.11" stroke="#6e6e6e" stroke-width="1" stroke-linecap="butt"/>
<line x1="199" y1="166.63" x2="203.8" y2="166.63" stroke="#6e6e6e" stroke-width="1" stroke-linecap="butt"/>
<line x1="209.8" y1="162.22" x2="209.8" y2="167.87" stroke="#6e6e6e" stroke-width="1" stroke-linecap="butt"/>
<line x1="207.4" y1="162.22" x2="212.2" y2="162.22" stroke="#6e6e6e" stroke-width="1" stroke-linecap="butt"/>
<line x1="207.4" y1="167.87" x2="212.2" y2="167.87" stroke="#6e6e6e" stroke-width="1" stroke-linecap="butt"/>
<line x1="218.2" y1="156.8" x2="218.2" y2="161.31" stroke="#6e6e6e" stroke-width="1" stroke-linecap="butt"/>
<line x1="215.8" y1="156.8" x2="220.6" y2="156.8" stroke="#6e6e6e" stroke-width="1" stroke-linecap="butt"/>
<line x1="215.8" y1="161.31" x2="220.6" y2="161.31" stroke="#6e6e6e" stroke-width="1" stroke-linecap="butt"/>
<line x1="226.6" y1="155.67" x2="226.6" y2="159.51" stroke="#6e6e6e" stroke-width="1" stroke-linecap="butt"/>
<line x1="224.2" y1="155.67" x2="229" y2="155.67" stroke="#6e6e6e" stroke-width="1" stroke-linecap="butt"/>
<line x1="224.2" y1="159.51" x2="229" y2="159.51" stroke="#6e6e6e" stroke-width="1" stroke-linecap="butt"/>
<line x1="235" y1="160.07" x2="235" y2="165.72" stroke="#6e6e6e" stroke-width="1" stroke-linecap="butt"/>
<line x1="232.6" y1="160.07" x2="237.4" y2="160.07" stroke="#6e6e6e" stroke-width="1" stroke-linecap="butt"/>
<line x1="232.6" y1="165.72" x2="237.4" y2="165.72" stroke="#6e6e6e" stroke-width="1" stroke-linecap="butt"/>
<line x1="243.4" y1="164.03" x2="243.4" y2="170.81" stroke="#6e6e6e" stroke-width="1" stroke-linecap="butt"/>
<line x1="241" y1="164.03" x2="245.8" y2="164.03" stroke="#6e6e6e" stroke-width="1" stroke-linecap="butt"/>
<line x1="241" y1="170.81" x2="245.8" y2="170.81" stroke="#6e6e6e" stroke-width="1" stroke-linecap="butt"/>
<line x1="251.8" y1="158.15" x2="251.8" y2="166.06" stroke="#6e6e6e" stroke-width="1" stroke-linecap="butt"/>
<line x1="249.4" y1="158.15" x2="254.2" y2="158.15" stroke="#6e6e6e" stroke-width="1" stroke-linecap="butt"/>
<line x1="249.4" y1="166.06" x2="254.2" y2="166.06" stroke="#6e6e6e" stroke-width="1" stroke-linecap="butt"/>
<circle cx="159.4" cy="200.3" r="1.61" fill="#6e6e6e"/>
<circle cx="167.8" cy="180.53" r="1.61" fill="#6e6e6e"/>
<circle cx="176.2" cy="174.31" r="1.61" fill="#6e6e6e"/>
<circle cx="184.6" cy="175.44" r="1.61" fill="#6e6e6e"/>
<circle cx="193" cy="159.06" r="1.61" fill="#6e6e6e"/>
<circle cx="201.4" cy="164.37" r="1.61" fill="#6e6e6e"/>
<circle cx="209.8" cy="165.04" r="1.61" fill="#6e6e6e"/>
<circle cx="218.2" cy="159.06" r="1.61" fill="#6e6e6e"/>
<circle cx="226.6" cy="157.59" r="1.61" fill="#6e6e6e"/>
<circle cx="235" cy="162.9" r="1.61" fill="#6e6e6e"/>
<circle cx="243.4" cy="167.42" r="1.61" fill="#6e6e6e"/>
<circle cx="251.8" cy="162.11" r="1.61" fill="#6e6e6e"/>
<polyline points="159.4,200.3 167.8,194.65 176.2,200.3 184.6,200.3 193,200.3 201.4,200.3 209.8,200.3 218.2,200.3 226.6,200.3 235,199.17 243.4,197.59 251.8,197.59" fill="none" stroke="#000" stroke-width="1.5" stroke-linejoin="round"/>
<rect x="157.5" y="198.4" width="3.8" height="3.8" fill="#000"/>
<rect x="165.9" y="192.75" width="3.8" height="3.8" fill="#000"/>
<rect x="174.3" y="198.4" width="3.8" height="3.8" fill="#000"/>
<rect x="182.7" y="198.4" width="3.8" height="3.8" fill="#000"/>
<rect x="191.1" y="198.4" width="3.8" height="3.8" fill="#000"/>
<rect x="199.5" y="198.4" width="3.8" height="3.8" fill="#000"/>
<rect x="207.9" y="198.4" width="3.8" height="3.8" fill="#000"/>
<rect x="216.3" y="198.4" width="3.8" height="3.8" fill="#000"/>
<rect x="224.7" y="198.4" width="3.8" height="3.8" fill="#000"/>
<rect x="233.1" y="197.27" width="3.8" height="3.8" fill="#000"/>
<rect x="241.5" y="195.69" width="3.8" height="3.8" fill="#000"/>
<rect x="249.9" y="195.69" width="3.8" height="3.8" fill="#000"/>
<line x1="295.3" y1="134.8" x2="295.3" y2="202.9" stroke="#000" stroke-width="1.7" stroke-linecap="butt"/>
<line x1="292.5" y1="142.7" x2="295.3" y2="142.7" stroke="#000" stroke-width="1.53" stroke-linecap="butt"/>
<text x="292.7" y="144.7" font-size="5.6" text-anchor="end" font-weight="bold" fill="#000">10</text>
<line x1="292.5" y1="157.6" x2="295.3" y2="157.6" stroke="#000" stroke-width="1.53" stroke-linecap="butt"/>
<text x="292.7" y="159.6" font-size="5.6" text-anchor="end" font-weight="bold" fill="#000">0</text>
<line x1="292.5" y1="172.5" x2="295.3" y2="172.5" stroke="#000" stroke-width="1.53" stroke-linecap="butt"/>
<text x="292.7" y="174.5" font-size="5.6" text-anchor="end" font-weight="bold" fill="#000">-10</text>
<line x1="292.5" y1="187.4" x2="295.3" y2="187.4" stroke="#000" stroke-width="1.53" stroke-linecap="butt"/>
<text x="292.7" y="189.4" font-size="5.6" text-anchor="end" font-weight="bold" fill="#000">-20</text>
<line x1="292.5" y1="202.3" x2="295.3" y2="202.3" stroke="#000" stroke-width="1.53" stroke-linecap="butt"/>
<text x="292.7" y="204.3" font-size="5.6" text-anchor="end" font-weight="bold" fill="#000">-30</text>
<text x="282.2" y="163" font-size="6.9" text-anchor="middle" font-weight="bold" fill="#000" transform="rotate(-90 282.2 163)">WEIGHT CHANGE (%)</text>
<text x="346.3" y="219.6" font-size="7.2" text-anchor="middle" font-weight="bold" fill="#000">WEEKS AFTER BMT</text>
<polyline points="295.6,157.6 304,188.89 312.4,194.1 320.8,197.23 329.2,197.23 337.6,191.42 346,187.85 354.4,186.8 362.8,185.61 371.2,184.42 379.6,182.04 388,177.57" fill="none" stroke="#6e6e6e" stroke-width="1.5" stroke-linejoin="round"/>
<line x1="304" y1="186.65" x2="304" y2="191.12" stroke="#6e6e6e" stroke-width="1" stroke-linecap="butt"/>
<line x1="301.6" y1="186.65" x2="306.4" y2="186.65" stroke="#6e6e6e" stroke-width="1" stroke-linecap="butt"/>
<line x1="301.6" y1="191.12" x2="306.4" y2="191.12" stroke="#6e6e6e" stroke-width="1" stroke-linecap="butt"/>
<line x1="312.4" y1="191.87" x2="312.4" y2="196.34" stroke="#6e6e6e" stroke-width="1" stroke-linecap="butt"/>
<line x1="310" y1="191.87" x2="314.8" y2="191.87" stroke="#6e6e6e" stroke-width="1" stroke-linecap="butt"/>
<line x1="310" y1="196.34" x2="314.8" y2="196.34" stroke="#6e6e6e" stroke-width="1" stroke-linecap="butt"/>
<line x1="320.8" y1="195" x2="320.8" y2="199.47" stroke="#6e6e6e" stroke-width="1" stroke-linecap="butt"/>
<line x1="318.4" y1="195" x2="323.2" y2="195" stroke="#6e6e6e" stroke-width="1" stroke-linecap="butt"/>
<line x1="318.4" y1="199.47" x2="323.2" y2="199.47" stroke="#6e6e6e" stroke-width="1" stroke-linecap="butt"/>
<line x1="329.2" y1="194.25" x2="329.2" y2="200.21" stroke="#6e6e6e" stroke-width="1" stroke-linecap="butt"/>
<line x1="326.8" y1="194.25" x2="331.6" y2="194.25" stroke="#6e6e6e" stroke-width="1" stroke-linecap="butt"/>
<line x1="326.8" y1="200.21" x2="331.6" y2="200.21" stroke="#6e6e6e" stroke-width="1" stroke-linecap="butt"/>
<line x1="337.6" y1="188.44" x2="337.6" y2="194.4" stroke="#6e6e6e" stroke-width="1" stroke-linecap="butt"/>
<line x1="335.2" y1="188.44" x2="340" y2="188.44" stroke="#6e6e6e" stroke-width="1" stroke-linecap="butt"/>
<line x1="335.2" y1="194.4" x2="340" y2="194.4" stroke="#6e6e6e" stroke-width="1" stroke-linecap="butt"/>
<line x1="346" y1="184.87" x2="346" y2="190.83" stroke="#6e6e6e" stroke-width="1" stroke-linecap="butt"/>
<line x1="343.6" y1="184.87" x2="348.4" y2="184.87" stroke="#6e6e6e" stroke-width="1" stroke-linecap="butt"/>
<line x1="343.6" y1="190.83" x2="348.4" y2="190.83" stroke="#6e6e6e" stroke-width="1" stroke-linecap="butt"/>
<line x1="354.4" y1="183.08" x2="354.4" y2="190.53" stroke="#6e6e6e" stroke-width="1" stroke-linecap="butt"/>
<line x1="352" y1="183.08" x2="356.8" y2="183.08" stroke="#6e6e6e" stroke-width="1" stroke-linecap="butt"/>
<line x1="352" y1="190.53" x2="356.8" y2="190.53" stroke="#6e6e6e" stroke-width="1" stroke-linecap="butt"/>
<line x1="362.8" y1="181.14" x2="362.8" y2="190.08" stroke="#6e6e6e" stroke-width="1" stroke-linecap="butt"/>
<line x1="360.4" y1="181.14" x2="365.2" y2="181.14" stroke="#6e6e6e" stroke-width="1" stroke-linecap="butt"/>
<line x1="360.4" y1="190.08" x2="365.2" y2="190.08" stroke="#6e6e6e" stroke-width="1" stroke-linecap="butt"/>
<line x1="371.2" y1="179.95" x2="371.2" y2="188.89" stroke="#6e6e6e" stroke-width="1" stroke-linecap="butt"/>
<line x1="368.8" y1="179.95" x2="373.6" y2="179.95" stroke="#6e6e6e" stroke-width="1" stroke-linecap="butt"/>
<line x1="368.8" y1="188.89" x2="373.6" y2="188.89" stroke="#6e6e6e" stroke-width="1" stroke-linecap="butt"/>
<line x1="379.6" y1="176.82" x2="379.6" y2="187.25" stroke="#6e6e6e" stroke-width="1" stroke-linecap="butt"/>
<line x1="377.2" y1="176.82" x2="382" y2="176.82" stroke="#6e6e6e" stroke-width="1" stroke-linecap="butt"/>
<line x1="377.2" y1="187.25" x2="382" y2="187.25" stroke="#6e6e6e" stroke-width="1" stroke-linecap="butt"/>
<line x1="388" y1="170.86" x2="388" y2="184.27" stroke="#6e6e6e" stroke-width="1" stroke-linecap="butt"/>
<line x1="385.6" y1="170.86" x2="390.4" y2="170.86" stroke="#6e6e6e" stroke-width="1" stroke-linecap="butt"/>
<line x1="385.6" y1="184.27" x2="390.4" y2="184.27" stroke="#6e6e6e" stroke-width="1" stroke-linecap="butt"/>
<circle cx="295.6" cy="157.6" r="1.61" fill="#6e6e6e"/>
<circle cx="304" cy="188.89" r="1.61" fill="#6e6e6e"/>
<circle cx="312.4" cy="194.1" r="1.61" fill="#6e6e6e"/>
<circle cx="320.8" cy="197.23" r="1.61" fill="#6e6e6e"/>
<circle cx="329.2" cy="197.23" r="1.61" fill="#6e6e6e"/>
<circle cx="337.6" cy="191.42" r="1.61" fill="#6e6e6e"/>
<circle cx="346" cy="187.85" r="1.61" fill="#6e6e6e"/>
<circle cx="354.4" cy="186.8" r="1.61" fill="#6e6e6e"/>
<circle cx="362.8" cy="185.61" r="1.61" fill="#6e6e6e"/>
<circle cx="371.2" cy="184.42" r="1.61" fill="#6e6e6e"/>
<circle cx="379.6" cy="182.04" r="1.61" fill="#6e6e6e"/>
<circle cx="388" cy="177.57" r="1.61" fill="#6e6e6e"/>
<polyline points="295.6,157.6 304,186.95 312.4,174.44 320.8,175.48 329.2,173.54 337.6,169.22 346,168.03 354.4,166.99 362.8,166.99 371.2,165.79 379.6,163.56 388,162.22" fill="none" stroke="#a2a2a2" stroke-width="1.5" stroke-linejoin="round"/>
<line x1="304" y1="184.72" x2="304" y2="189.19" stroke="#a2a2a2" stroke-width="1" stroke-linecap="butt"/>
<line x1="301.6" y1="184.72" x2="306.4" y2="184.72" stroke="#a2a2a2" stroke-width="1" stroke-linecap="butt"/>
<line x1="301.6" y1="189.19" x2="306.4" y2="189.19" stroke="#a2a2a2" stroke-width="1" stroke-linecap="butt"/>
<line x1="312.4" y1="172.2" x2="312.4" y2="176.67" stroke="#a2a2a2" stroke-width="1" stroke-linecap="butt"/>
<line x1="310" y1="172.2" x2="314.8" y2="172.2" stroke="#a2a2a2" stroke-width="1" stroke-linecap="butt"/>
<line x1="310" y1="176.67" x2="314.8" y2="176.67" stroke="#a2a2a2" stroke-width="1" stroke-linecap="butt"/>
<line x1="320.8" y1="173.24" x2="320.8" y2="177.72" stroke="#a2a2a2" stroke-width="1" stroke-linecap="butt"/>
<line x1="318.4" y1="173.24" x2="323.2" y2="173.24" stroke="#a2a2a2" stroke-width="1" stroke-linecap="butt"/>
<line x1="318.4" y1="177.72" x2="323.2" y2="177.72" stroke="#a2a2a2" stroke-width="1" stroke-linecap="butt"/>
<line x1="329.2" y1="170.56" x2="329.2" y2="176.52" stroke="#a2a2a2" stroke-width="1" stroke-linecap="butt"/>
<line x1="326.8" y1="170.56" x2="331.6" y2="170.56" stroke="#a2a2a2" stroke-width="1" stroke-linecap="butt"/>
<line x1="326.8" y1="176.52" x2="331.6" y2="176.52" stroke="#a2a2a2" stroke-width="1" stroke-linecap="butt"/>
<line x1="337.6" y1="164.75" x2="337.6" y2="173.69" stroke="#a2a2a2" stroke-width="1" stroke-linecap="butt"/>
<line x1="335.2" y1="164.75" x2="340" y2="164.75" stroke="#a2a2a2" stroke-width="1" stroke-linecap="butt"/>
<line x1="335.2" y1="173.69" x2="340" y2="173.69" stroke="#a2a2a2" stroke-width="1" stroke-linecap="butt"/>
<line x1="346" y1="163.56" x2="346" y2="172.5" stroke="#a2a2a2" stroke-width="1" stroke-linecap="butt"/>
<line x1="343.6" y1="163.56" x2="348.4" y2="163.56" stroke="#a2a2a2" stroke-width="1" stroke-linecap="butt"/>
<line x1="343.6" y1="172.5" x2="348.4" y2="172.5" stroke="#a2a2a2" stroke-width="1" stroke-linecap="butt"/>
<line x1="354.4" y1="161.77" x2="354.4" y2="172.2" stroke="#a2a2a2" stroke-width="1" stroke-linecap="butt"/>
<line x1="352" y1="161.77" x2="356.8" y2="161.77" stroke="#a2a2a2" stroke-width="1" stroke-linecap="butt"/>
<line x1="352" y1="172.2" x2="356.8" y2="172.2" stroke="#a2a2a2" stroke-width="1" stroke-linecap="butt"/>
<line x1="362.8" y1="161.77" x2="362.8" y2="172.2" stroke="#a2a2a2" stroke-width="1" stroke-linecap="butt"/>
<line x1="360.4" y1="161.77" x2="365.2" y2="161.77" stroke="#a2a2a2" stroke-width="1" stroke-linecap="butt"/>
<line x1="360.4" y1="172.2" x2="365.2" y2="172.2" stroke="#a2a2a2" stroke-width="1" stroke-linecap="butt"/>
<line x1="371.2" y1="160.58" x2="371.2" y2="171.01" stroke="#a2a2a2" stroke-width="1" stroke-linecap="butt"/>
<line x1="368.8" y1="160.58" x2="373.6" y2="160.58" stroke="#a2a2a2" stroke-width="1" stroke-linecap="butt"/>
<line x1="368.8" y1="171.01" x2="373.6" y2="171.01" stroke="#a2a2a2" stroke-width="1" stroke-linecap="butt"/>
<line x1="379.6" y1="158.34" x2="379.6" y2="168.78" stroke="#a2a2a2" stroke-width="1" stroke-linecap="butt"/>
<line x1="377.2" y1="158.34" x2="382" y2="158.34" stroke="#a2a2a2" stroke-width="1" stroke-linecap="butt"/>
<line x1="377.2" y1="168.78" x2="382" y2="168.78" stroke="#a2a2a2" stroke-width="1" stroke-linecap="butt"/>
<line x1="388" y1="157" x2="388" y2="167.43" stroke="#a2a2a2" stroke-width="1" stroke-linecap="butt"/>
<line x1="385.6" y1="157" x2="390.4" y2="157" stroke="#a2a2a2" stroke-width="1" stroke-linecap="butt"/>
<line x1="385.6" y1="167.43" x2="390.4" y2="167.43" stroke="#a2a2a2" stroke-width="1" stroke-linecap="butt"/>
<polygon points="295.6,155.56 293.56,159.23 297.64,159.23" fill="#a2a2a2"/>
<polygon points="304,184.91 301.96,188.59 306.04,188.59" fill="#a2a2a2"/>
<polygon points="312.4,172.4 310.36,176.07 314.44,176.07" fill="#a2a2a2"/>
<polygon points="320.8,173.44 318.76,177.11 322.84,177.11" fill="#a2a2a2"/>
<polygon points="329.2,171.5 327.16,175.18 331.24,175.18" fill="#a2a2a2"/>
<polygon points="337.6,167.18 335.56,170.85 339.64,170.85" fill="#a2a2a2"/>
<polygon points="346,165.99 343.96,169.66 348.04,169.66" fill="#a2a2a2"/>
<polygon points="354.4,164.95 352.36,168.62 356.44,168.62" fill="#a2a2a2"/>
<polygon points="362.8,164.95 360.76,168.62 364.84,168.62" fill="#a2a2a2"/>
<polygon points="371.2,163.75 369.16,167.43 373.24,167.43" fill="#a2a2a2"/>
<polygon points="379.6,161.52 377.56,165.19 381.64,165.19" fill="#a2a2a2"/>
<polygon points="388,160.18 385.96,163.85 390.04,163.85" fill="#a2a2a2"/>
<line x1="294.7" y1="157.6" x2="397" y2="157.6" stroke="#000" stroke-width="1.7" stroke-linecap="butt"/>
<line x1="312.4" y1="157.6" x2="312.4" y2="160.4" stroke="#000" stroke-width="1.53" stroke-linecap="butt"/>
<text x="312.4" y="165" font-size="5.8" text-anchor="middle" font-weight="bold" fill="#000">2</text>
<line x1="329.2" y1="157.6" x2="329.2" y2="160.4" stroke="#000" stroke-width="1.53" stroke-linecap="butt"/>
<text x="329.2" y="165" font-size="5.8" text-anchor="middle" font-weight="bold" fill="#000">4</text>
<line x1="346" y1="157.6" x2="346" y2="160.4" stroke="#000" stroke-width="1.53" stroke-linecap="butt"/>
<text x="346" y="165" font-size="5.8" text-anchor="middle" font-weight="bold" fill="#000">6</text>
<line x1="362.8" y1="157.6" x2="362.8" y2="160.4" stroke="#000" stroke-width="1.53" stroke-linecap="butt"/>
<text x="362.8" y="165" font-size="5.8" text-anchor="middle" font-weight="bold" fill="#000">8</text>
<line x1="379.6" y1="157.6" x2="379.6" y2="160.4" stroke="#000" stroke-width="1.53" stroke-linecap="butt"/>
<text x="379.6" y="165" font-size="5.8" text-anchor="middle" font-weight="bold" fill="#000">10</text>
<line x1="396.4" y1="157.6" x2="396.4" y2="160.4" stroke="#000" stroke-width="1.53" stroke-linecap="butt"/>
<text x="396.4" y="165" font-size="5.8" text-anchor="middle" font-weight="bold" fill="#000">12</text>
<polyline points="295.6,157.6 304,169.22 312.4,163.86 320.8,161.03 329.2,157.3 337.6,155.36 346,154.62 354.4,153.13 362.8,149.41 371.2,148.21 379.6,148.21 388,146.42" fill="none" stroke="#000" stroke-width="1.6" stroke-linejoin="round"/>
<line x1="304" y1="167.43" x2="304" y2="171.01" stroke="#000" stroke-width="1" stroke-linecap="butt"/>
<line x1="301.6" y1="167.43" x2="306.4" y2="167.43" stroke="#000" stroke-width="1" stroke-linecap="butt"/>
<line x1="301.6" y1="171.01" x2="306.4" y2="171.01" stroke="#000" stroke-width="1" stroke-linecap="butt"/>
<line x1="312.4" y1="162.07" x2="312.4" y2="165.65" stroke="#000" stroke-width="1" stroke-linecap="butt"/>
<line x1="310" y1="162.07" x2="314.8" y2="162.07" stroke="#000" stroke-width="1" stroke-linecap="butt"/>
<line x1="310" y1="165.65" x2="314.8" y2="165.65" stroke="#000" stroke-width="1" stroke-linecap="butt"/>
<line x1="320.8" y1="159.24" x2="320.8" y2="162.81" stroke="#000" stroke-width="1" stroke-linecap="butt"/>
<line x1="318.4" y1="159.24" x2="323.2" y2="159.24" stroke="#000" stroke-width="1" stroke-linecap="butt"/>
<line x1="318.4" y1="162.81" x2="323.2" y2="162.81" stroke="#000" stroke-width="1" stroke-linecap="butt"/>
<line x1="329.2" y1="154.32" x2="329.2" y2="160.28" stroke="#000" stroke-width="1" stroke-linecap="butt"/>
<line x1="326.8" y1="154.32" x2="331.6" y2="154.32" stroke="#000" stroke-width="1" stroke-linecap="butt"/>
<line x1="326.8" y1="160.28" x2="331.6" y2="160.28" stroke="#000" stroke-width="1" stroke-linecap="butt"/>
<line x1="337.6" y1="152.38" x2="337.6" y2="158.34" stroke="#000" stroke-width="1" stroke-linecap="butt"/>
<line x1="335.2" y1="152.38" x2="340" y2="152.38" stroke="#000" stroke-width="1" stroke-linecap="butt"/>
<line x1="335.2" y1="158.34" x2="340" y2="158.34" stroke="#000" stroke-width="1" stroke-linecap="butt"/>
<line x1="346" y1="151.64" x2="346" y2="157.6" stroke="#000" stroke-width="1" stroke-linecap="butt"/>
<line x1="343.6" y1="151.64" x2="348.4" y2="151.64" stroke="#000" stroke-width="1" stroke-linecap="butt"/>
<line x1="343.6" y1="157.6" x2="348.4" y2="157.6" stroke="#000" stroke-width="1" stroke-linecap="butt"/>
<line x1="354.4" y1="149.41" x2="354.4" y2="156.85" stroke="#000" stroke-width="1" stroke-linecap="butt"/>
<line x1="352" y1="149.41" x2="356.8" y2="149.41" stroke="#000" stroke-width="1" stroke-linecap="butt"/>
<line x1="352" y1="156.85" x2="356.8" y2="156.85" stroke="#000" stroke-width="1" stroke-linecap="butt"/>
<line x1="362.8" y1="146.43" x2="362.8" y2="152.38" stroke="#000" stroke-width="1" stroke-linecap="butt"/>
<line x1="360.4" y1="146.43" x2="365.2" y2="146.43" stroke="#000" stroke-width="1" stroke-linecap="butt"/>
<line x1="360.4" y1="152.38" x2="365.2" y2="152.38" stroke="#000" stroke-width="1" stroke-linecap="butt"/>
<line x1="371.2" y1="145.23" x2="371.2" y2="151.19" stroke="#000" stroke-width="1" stroke-linecap="butt"/>
<line x1="368.8" y1="145.23" x2="373.6" y2="145.23" stroke="#000" stroke-width="1" stroke-linecap="butt"/>
<line x1="368.8" y1="151.19" x2="373.6" y2="151.19" stroke="#000" stroke-width="1" stroke-linecap="butt"/>
<line x1="379.6" y1="145.23" x2="379.6" y2="151.19" stroke="#000" stroke-width="1" stroke-linecap="butt"/>
<line x1="377.2" y1="145.23" x2="382" y2="145.23" stroke="#000" stroke-width="1" stroke-linecap="butt"/>
<line x1="377.2" y1="151.19" x2="382" y2="151.19" stroke="#000" stroke-width="1" stroke-linecap="butt"/>
<line x1="388" y1="142.7" x2="388" y2="150.15" stroke="#000" stroke-width="1" stroke-linecap="butt"/>
<line x1="385.6" y1="142.7" x2="390.4" y2="142.7" stroke="#000" stroke-width="1" stroke-linecap="butt"/>
<line x1="385.6" y1="150.15" x2="390.4" y2="150.15" stroke="#000" stroke-width="1" stroke-linecap="butt"/>
<rect x="293.51" y="155.51" width="4.18" height="4.18" fill="#000"/>
<rect x="301.91" y="167.13" width="4.18" height="4.18" fill="#000"/>
<rect x="310.31" y="161.77" width="4.18" height="4.18" fill="#000"/>
<rect x="318.71" y="158.94" width="4.18" height="4.18" fill="#000"/>
<rect x="327.11" y="155.21" width="4.18" height="4.18" fill="#000"/>
<rect x="335.51" y="153.27" width="4.18" height="4.18" fill="#000"/>
<rect x="343.91" y="152.53" width="4.18" height="4.18" fill="#000"/>
<rect x="352.31" y="151.04" width="4.18" height="4.18" fill="#000"/>
<rect x="360.71" y="147.31" width="4.18" height="4.18" fill="#000"/>
<rect x="369.11" y="146.12" width="4.18" height="4.18" fill="#000"/>
<rect x="377.51" y="146.12" width="4.18" height="4.18" fill="#000"/>
<rect x="385.91" y="144.33" width="4.18" height="4.18" fill="#000"/>
<line x1="403.1" y1="153.1" x2="415" y2="153.1" stroke="#000" stroke-width="2" stroke-linecap="butt"/>
<rect x="406.87" y="150.91" width="4.37" height="4.37" fill="#000"/>
<text x="416.9" y="155.69" font-size="7.2" text-anchor="start" font-weight="bold" fill="#000">only BM (n=9)</text>
<line x1="403.1" y1="163.1" x2="415" y2="163.1" stroke="#6e6e6e" stroke-width="1.5" stroke-linecap="butt"/>
<circle cx="409.05" cy="163.1" r="2.18" fill="#6e6e6e"/>
<text x="416.9" y="165.69" font-size="7.2" text-anchor="start" font-weight="bold" fill="#000">wt CD4+ &#160; T cells (n=18)</text>
<line x1="403.1" y1="172.1" x2="415" y2="172.1" stroke="#a2a2a2" stroke-width="1.5" stroke-linecap="butt"/>
<polygon points="409.05,169.34 406.29,174.31 411.81,174.31" fill="#a2a2a2"/>
<text x="416.9" y="174.69" font-size="7.2" text-anchor="start" font-weight="bold" fill="#000">memTNF CD4+ &#160;T cells (n=18)</text>
<text x="2" y="239.6" font-size="15.6" text-anchor="start" font-weight="bold" fill="#000">C</text>
<line x1="58.1" y1="233.2" x2="58.1" y2="341.6" stroke="#000" stroke-width="1.9" stroke-linecap="butt"/>
<line x1="53.9" y1="236.4" x2="58.1" y2="236.4" stroke="#000" stroke-width="1.71" stroke-linecap="butt"/>
<text x="53" y="238.7" font-size="6.4" text-anchor="end" font-weight="bold" fill="#000">100</text>
<line x1="53.9" y1="262.55" x2="58.1" y2="262.55" stroke="#000" stroke-width="1.71" stroke-linecap="butt"/>
<text x="53" y="264.85" font-size="6.4" text-anchor="end" font-weight="bold" fill="#000">75</text>
<line x1="53.9" y1="288.7" x2="58.1" y2="288.7" stroke="#000" stroke-width="1.71" stroke-linecap="butt"/>
<text x="53" y="291" font-size="6.4" text-anchor="end" font-weight="bold" fill="#000">50</text>
<line x1="53.9" y1="314.85" x2="58.1" y2="314.85" stroke="#000" stroke-width="1.71" stroke-linecap="butt"/>
<text x="53" y="317.15" font-size="6.4" text-anchor="end" font-weight="bold" fill="#000">25</text>
<line x1="53.9" y1="341" x2="58.1" y2="341" stroke="#000" stroke-width="1.71" stroke-linecap="butt"/>
<text x="53" y="343.3" font-size="6.4" text-anchor="end" font-weight="bold" fill="#000">0</text>
<line x1="57.5" y1="341" x2="219.1" y2="341" stroke="#000" stroke-width="1.9" stroke-linecap="butt"/>
<line x1="57.5" y1="341" x2="57.5" y2="344" stroke="#000" stroke-width="1.71" stroke-linecap="butt"/>
<text x="57.5" y="350.7" font-size="6.9" text-anchor="middle" font-weight="bold" fill="#000">0</text>
<line x1="89.7" y1="341" x2="89.7" y2="344" stroke="#000" stroke-width="1.71" stroke-linecap="butt"/>
<text x="89.7" y="350.7" font-size="6.9" text-anchor="middle" font-weight="bold" fill="#000">20</text>
<line x1="121.9" y1="341" x2="121.9" y2="344" stroke="#000" stroke-width="1.71" stroke-linecap="butt"/>
<text x="121.9" y="350.7" font-size="6.9" text-anchor="middle" font-weight="bold" fill="#000">40</text>
<line x1="154.1" y1="341" x2="154.1" y2="344" stroke="#000" stroke-width="1.71" stroke-linecap="butt"/>
<text x="154.1" y="350.7" font-size="6.9" text-anchor="middle" font-weight="bold" fill="#000">60</text>
<line x1="186.3" y1="341" x2="186.3" y2="344" stroke="#000" stroke-width="1.71" stroke-linecap="butt"/>
<text x="186.3" y="350.7" font-size="6.9" text-anchor="middle" font-weight="bold" fill="#000">80</text>
<line x1="218.5" y1="341" x2="218.5" y2="344" stroke="#000" stroke-width="1.71" stroke-linecap="butt"/>
<text x="218.5" y="350.7" font-size="6.9" text-anchor="middle" font-weight="bold" fill="#000">100</text>
<text x="35.6" y="286.9" font-size="7.2" text-anchor="middle" font-weight="bold" fill="#000" transform="rotate(-90 35.6 286.9)">SURVIVAL (%)</text>
<text x="143.5" y="361.8" font-size="8.45" text-anchor="middle" font-weight="bold" fill="#000">DAYS AFTER BMT</text>
<polyline points="58.5,236.4 85.6,236.4 85.6,257.6 88.8,257.6 88.8,289.3 90.4,289.3 90.4,299.2 92.2,299.2 92.2,320.7 94.9,320.7 94.9,331.7 100.1,331.7 100.1,341 100.1,341" fill="none" stroke="#000" stroke-width="1.8" stroke-linejoin="miter"/>
<rect x="83.6" y="255.61" width="3.99" height="3.99" fill="#000"/>
<rect x="86.8" y="287.31" width="3.99" height="3.99" fill="#000"/>
<rect x="88.41" y="297.2" width="3.99" height="3.99" fill="#000"/>
<rect x="90.2" y="318.7" width="3.99" height="3.99" fill="#000"/>
<rect x="92.91" y="329.7" width="3.99" height="3.99" fill="#000"/>
<rect x="98.1" y="339" width="3.99" height="3.99" fill="#000"/>
<polyline points="58.5,236.4 69.4,236.4 69.4,242.8 70.9,242.8 70.9,257.4 73.1,257.4 73.1,263.8 74.8,263.8 74.8,273.7 75.8,273.7 75.8,289.3 77.9,289.3 77.9,294.5 92.2,294.5 92.2,299.5 137.7,299.5 137.7,305.4 145.8,305.4 145.8,310.8 149.2,310.8 149.2,315.7 163.8,315.7 163.8,321.2 195.4,321.2" fill="none" stroke="#6e6e6e" stroke-width="1.4" stroke-linejoin="miter"/>
<circle cx="69.4" cy="242.8" r="1.99" fill="#6e6e6e"/>
<circle cx="70.9" cy="257.4" r="1.99" fill="#6e6e6e"/>
<circle cx="73.1" cy="263.8" r="1.99" fill="#6e6e6e"/>
<circle cx="74.8" cy="273.7" r="1.99" fill="#6e6e6e"/>
<circle cx="75.8" cy="289.3" r="1.99" fill="#6e6e6e"/>
<circle cx="77.9" cy="294.5" r="1.99" fill="#6e6e6e"/>
<circle cx="92.2" cy="299.5" r="1.99" fill="#6e6e6e"/>
<circle cx="137.7" cy="305.4" r="1.99" fill="#6e6e6e"/>
<circle cx="145.8" cy="310.8" r="1.99" fill="#6e6e6e"/>
<circle cx="149.2" cy="315.7" r="1.99" fill="#6e6e6e"/>
<circle cx="163.8" cy="321.2" r="1.99" fill="#6e6e6e"/>
<circle cx="195.4" cy="321.2" r="1.99" fill="#6e6e6e"/>
<polyline points="58.5,236.4 70.2,236.4 70.2,246.9 82.2,246.9 82.2,252.7 103.1,252.7 103.1,258.8 114.2,258.8 114.2,268.8 119.6,268.8 119.6,274.2 134.4,274.2 134.4,285 136.6,285 136.6,289.5 150.8,289.5 150.8,295.6 157.6,295.6 157.6,304.9 195.4,304.9" fill="none" stroke="#a2a2a2" stroke-width="1.4" stroke-linejoin="miter"/>
<polygon points="82.2,250.3 79.8,254.62 84.6,254.62" fill="#a2a2a2"/>
<polygon points="103.1,256.4 100.7,260.72 105.5,260.72" fill="#a2a2a2"/>
<polygon points="114.2,266.4 111.8,270.72 116.6,270.72" fill="#a2a2a2"/>
<polygon points="119.6,271.8 117.2,276.12 122,276.12" fill="#a2a2a2"/>
<polygon points="134.4,282.6 132,286.92 136.8,286.92" fill="#a2a2a2"/>
<polygon points="136.6,287.1 134.2,291.42 139,291.42" fill="#a2a2a2"/>
<polygon points="150.8,293.2 148.4,297.52 153.2,297.52" fill="#a2a2a2"/>
<polygon points="157.6,302.5 155.2,306.82 160,306.82" fill="#a2a2a2"/>
<polygon points="195.4,302.5 193,306.82 197.8,306.82" fill="#a2a2a2"/>
<text x="181" y="283" font-size="6.5" text-anchor="start" font-weight="bold" fill="#000"><tspan font-style="italic">P</tspan> = NS</text>
<text x="180.8" y="290.8" font-size="6.5" text-anchor="start" font-weight="bold" fill="#000">for</text>
<circle cx="193.8" cy="288.5" r="1.9" fill="#6e6e6e"/>
<text x="198" y="290.8" font-size="6.5" text-anchor="start" font-weight="bold" fill="#000">vs</text>
<polygon points="211.1,286.42 208.82,290.52 213.38,290.52" fill="#a2a2a2"/>
<line x1="130.5" y1="235.9" x2="142.2" y2="235.9" stroke="#000" stroke-width="2" stroke-linecap="butt"/>
<rect x="134.16" y="233.72" width="4.37" height="4.37" fill="#000"/>
<text x="144.2" y="238.53" font-size="7.3" text-anchor="start" font-weight="bold" fill="#000">only BM + A20 (n=10)</text>
<line x1="130.5" y1="247" x2="142.2" y2="247" stroke="#6e6e6e" stroke-width="1.5" stroke-linecap="butt"/>
<circle cx="136.35" cy="247" r="2.18" fill="#6e6e6e"/>
<text x="144.2" y="249.63" font-size="7.3" text-anchor="start" font-weight="bold" fill="#000">wt T cells + A20 (n=20)</text>
<line x1="130.5" y1="257.6" x2="142.2" y2="257.6" stroke="#a2a2a2" stroke-width="1.5" stroke-linecap="butt"/>
<polygon points="136.35,254.84 133.59,259.81 139.11,259.81" fill="#a2a2a2"/>
<text x="144.2" y="260.23" font-size="7.3" text-anchor="start" font-weight="bold" fill="#000">memTNF T cells + A20 (n=20)</text>
<text x="294" y="242.7" font-size="15.6" text-anchor="start" font-weight="bold" fill="#000">D</text>
<line x1="324.5" y1="232.7" x2="324.5" y2="342.35" stroke="#000" stroke-width="1.9" stroke-linecap="butt"/>
<line x1="321.1" y1="235.9" x2="324.5" y2="235.9" stroke="#000" stroke-width="1.71" stroke-linecap="butt"/>
<text x="321.9" y="238.2" font-size="6.4" text-anchor="end" font-weight="bold" fill="#000">100</text>
<line x1="321.1" y1="262.36" x2="324.5" y2="262.36" stroke="#000" stroke-width="1.71" stroke-linecap="butt"/>
<text x="321.9" y="264.67" font-size="6.4" text-anchor="end" font-weight="bold" fill="#000">75</text>
<line x1="321.1" y1="288.82" x2="324.5" y2="288.82" stroke="#000" stroke-width="1.71" stroke-linecap="butt"/>
<text x="321.9" y="291.13" font-size="6.4" text-anchor="end" font-weight="bold" fill="#000">50</text>
<line x1="321.1" y1="315.29" x2="324.5" y2="315.29" stroke="#000" stroke-width="1.71" stroke-linecap="butt"/>
<text x="321.9" y="317.59" font-size="6.4" text-anchor="end" font-weight="bold" fill="#000">25</text>
<line x1="321.1" y1="341.75" x2="324.5" y2="341.75" stroke="#000" stroke-width="1.71" stroke-linecap="butt"/>
<text x="321.9" y="344.05" font-size="6.4" text-anchor="end" font-weight="bold" fill="#000">0</text>
<line x1="323.9" y1="341.75" x2="487.1" y2="341.75" stroke="#000" stroke-width="1.9" stroke-linecap="butt"/>
<line x1="325" y1="341.75" x2="325" y2="344.75" stroke="#000" stroke-width="1.71" stroke-linecap="butt"/>
<text x="325" y="350.8" font-size="6.9" text-anchor="middle" font-weight="bold" fill="#000">0</text>
<line x1="357.3" y1="341.75" x2="357.3" y2="344.75" stroke="#000" stroke-width="1.71" stroke-linecap="butt"/>
<text x="357.3" y="350.8" font-size="6.9" text-anchor="middle" font-weight="bold" fill="#000">20</text>
<line x1="389.6" y1="341.75" x2="389.6" y2="344.75" stroke="#000" stroke-width="1.71" stroke-linecap="butt"/>
<text x="389.6" y="350.8" font-size="6.9" text-anchor="middle" font-weight="bold" fill="#000">40</text>
<line x1="421.9" y1="341.75" x2="421.9" y2="344.75" stroke="#000" stroke-width="1.71" stroke-linecap="butt"/>
<text x="421.9" y="350.8" font-size="6.9" text-anchor="middle" font-weight="bold" fill="#000">60</text>
<line x1="454.2" y1="341.75" x2="454.2" y2="344.75" stroke="#000" stroke-width="1.71" stroke-linecap="butt"/>
<text x="454.2" y="350.8" font-size="6.9" text-anchor="middle" font-weight="bold" fill="#000">80</text>
<line x1="486.5" y1="341.75" x2="486.5" y2="344.75" stroke="#000" stroke-width="1.71" stroke-linecap="butt"/>
<text x="486.5" y="350.8" font-size="6.9" text-anchor="middle" font-weight="bold" fill="#000">100</text>
<text x="306.6" y="287.5" font-size="7.2" text-anchor="middle" font-weight="bold" fill="#000" transform="rotate(-90 306.6 287.5)">SURVIVAL (%)</text>
<text x="416.6" y="361.8" font-size="8.45" text-anchor="middle" font-weight="bold" fill="#000">DAYS AFTER BMT</text>
<polyline points="325.2,235.9 347.4,235.9 347.4,251.5 348.6,251.5 348.6,282.2 350.4,282.2 350.4,302 352.2,302 352.2,311.9 353.9,311.9 353.9,332.4 358.6,332.4 358.6,341.5 358.6,341.5" fill="none" stroke="#000" stroke-width="1.8" stroke-linejoin="miter"/>
<rect x="345.4" y="249.5" width="3.99" height="3.99" fill="#000"/>
<rect x="346.61" y="280.2" width="3.99" height="3.99" fill="#000"/>
<rect x="348.4" y="300" width="3.99" height="3.99" fill="#000"/>
<rect x="350.2" y="309.9" width="3.99" height="3.99" fill="#000"/>
<rect x="351.9" y="330.4" width="3.99" height="3.99" fill="#000"/>
<rect x="356.61" y="339.5" width="3.99" height="3.99" fill="#000"/>
<polyline points="325.2,235.9 335.9,235.9 335.9,242 361.9,242 361.9,252.6 370,252.6 370,257.6 371.8,257.6 371.8,268.5 376.8,268.5 376.8,274 379.3,274 379.3,279.4 383.2,279.4 383.2,284.3 389,284.3 389,294.5 393.8,294.5 393.8,299.3 396.3,299.3 396.3,304.3 400.3,304.3 400.3,310.4 422,310.4 422,316 436.3,316 436.3,321 471.3,321" fill="none" stroke="#6e6e6e" stroke-width="1.4" stroke-linejoin="miter"/>
<circle cx="335.9" cy="242" r="1.99" fill="#6e6e6e"/>
<circle cx="361.9" cy="252.6" r="1.99" fill="#6e6e6e"/>
<circle cx="370" cy="257.6" r="1.99" fill="#6e6e6e"/>
<circle cx="371.8" cy="268.5" r="1.99" fill="#6e6e6e"/>
<circle cx="376.8" cy="274" r="1.99" fill="#6e6e6e"/>
<circle cx="379.3" cy="279.4" r="1.99" fill="#6e6e6e"/>
<circle cx="383.2" cy="284.3" r="1.99" fill="#6e6e6e"/>
<circle cx="389" cy="294.5" r="1.99" fill="#6e6e6e"/>
<circle cx="393.8" cy="299.3" r="1.99" fill="#6e6e6e"/>
<circle cx="396.3" cy="304.3" r="1.99" fill="#6e6e6e"/>
<circle cx="400.3" cy="310.4" r="1.99" fill="#6e6e6e"/>
<circle cx="422" cy="316" r="1.99" fill="#6e6e6e"/>
<circle cx="436.3" cy="321" r="1.99" fill="#6e6e6e"/>
<circle cx="471.3" cy="321" r="1.99" fill="#6e6e6e"/>
<polyline points="325.2,235.9 370.1,235.9 370.1,241.4 373,241.4 373,246.8 380.3,246.8 380.3,253.7 383.6,253.7 383.6,259.6 386.2,259.6 386.2,265.5 393.1,265.5 393.1,270.5 400,270.5 400,275 451.3,275 451.3,280 471.3,280" fill="none" stroke="#a2a2a2" stroke-width="1.4" stroke-linejoin="miter"/>
<polygon points="373,244.4 370.6,248.72 375.4,248.72" fill="#a2a2a2"/>
<polygon points="380.3,251.3 377.9,255.62 382.7,255.62" fill="#a2a2a2"/>
<polygon points="383.6,257.2 381.2,261.52 386,261.52" fill="#a2a2a2"/>
<polygon points="386.2,263.1 383.8,267.42 388.6,267.42" fill="#a2a2a2"/>
<polygon points="393.1,268.1 390.7,272.42 395.5,272.42" fill="#a2a2a2"/>
<polygon points="400,272.6 397.6,276.92 402.4,276.92" fill="#a2a2a2"/>
<polygon points="451.3,277.6 448.9,281.92 453.7,281.92" fill="#a2a2a2"/>
<polygon points="471.3,277.6 468.9,281.92 473.7,281.92" fill="#a2a2a2"/>
<text x="446.3" y="301.5" font-size="6.5" text-anchor="start" font-weight="bold" fill="#000"><tspan font-style="italic">P</tspan> &lt; .01</text>
<text x="444.5" y="308.4" font-size="6.2" text-anchor="start" font-weight="bold" fill="#000">for</text>
<circle cx="457.8" cy="306.4" r="1.9" fill="#6e6e6e"/>
<text x="462.2" y="308.4" font-size="6.2" text-anchor="start" font-weight="bold" fill="#000">vs</text>
<polygon points="473.3,304.22 471.02,308.32 475.58,308.32" fill="#a2a2a2"/>
<line x1="398.5" y1="236.6" x2="410" y2="236.6" stroke="#000" stroke-width="2" stroke-linecap="butt"/>
<rect x="402.06" y="234.41" width="4.37" height="4.37" fill="#000"/>
<text x="412" y="239.23" font-size="7.3" text-anchor="start" font-weight="bold" fill="#000">only BM + P815 (n=21)</text>
<line x1="398.5" y1="248" x2="410" y2="248" stroke="#6e6e6e" stroke-width="1.5" stroke-linecap="butt"/>
<circle cx="404.25" cy="248" r="2.18" fill="#6e6e6e"/>
<text x="412" y="250.63" font-size="7.3" text-anchor="start" font-weight="bold" fill="#000">wt T cells + P815 (n=20)</text>
<line x1="398.5" y1="258.1" x2="410" y2="258.1" stroke="#a2a2a2" stroke-width="1.5" stroke-linecap="butt"/>
<polygon points="404.25,255.34 401.49,260.31 407.01,260.31" fill="#a2a2a2"/>
<text x="412" y="260.73" font-size="7.3" text-anchor="start" font-weight="bold" fill="#000">memTNF T cells + P815 (n=22)</text>
</svg>
</body></html>
